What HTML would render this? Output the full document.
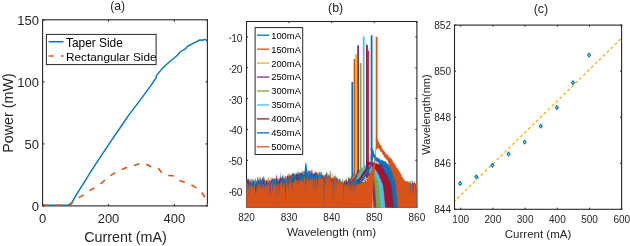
<!DOCTYPE html>
<html><head><meta charset="utf-8"><style>
html,body{margin:0;padding:0;background:#fff;}
svg{display:block;font-family:"Liberation Sans", sans-serif;filter:blur(0.3px);}
</style></head><body>
<svg width="630" height="246" viewBox="0 0 630 246" xmlns="http://www.w3.org/2000/svg">
<rect width="630" height="246" fill="#fff"/>
<rect x="42.6" y="19.8" width="164.8" height="186.1" fill="none" stroke="#262626" stroke-width="1.1"/>
<polyline points="42.50,205.20 70.30,205.20 72.30,201.90 76.40,194.60 82.10,185.60 91.80,170.10 101.60,155.20 111.70,140.20 120.00,128.00 128.70,115.20 140.00,100.40 151.20,85.20 156.10,77.80 156.50,75.40 162.20,68.60 169.50,61.80 176.80,55.70 180.70,51.50 185.70,48.60 187.10,46.60 192.10,43.90 196.30,41.90 199.90,39.90 202.00,40.30 205.60,39.40 207.50,41.50" fill="none" stroke="#0072BD" stroke-width="1.4" stroke-linejoin="round"/>
<polyline points="42.50,205.20 68.30,205.20 72.30,202.50 78.80,197.60 84.50,194.40 90.20,190.30 95.90,187.10 101.60,183.00 105.60,179.60 110.40,175.60 116.10,172.20 121.80,169.50 127.50,167.10 134.00,165.60 139.90,163.50 143.00,162.80 146.20,164.20 151.50,166.80 155.00,167.50 158.20,168.00 161.80,172.70 164.50,174.80 167.30,175.40 172.80,175.70 175.50,178.00 178.10,180.10 183.00,181.70 189.50,183.80 195.20,187.10 200.10,190.30 204.10,196.00 207.00,203.00 207.50,205.50" fill="none" stroke="#D95319" stroke-width="1.6" stroke-dasharray="5.7 7.2" stroke-linejoin="round"/>
<line x1="42.6" y1="205.9" x2="42.6" y2="204.1" stroke="#262626" stroke-width="1.1"/>
<line x1="42.6" y1="19.8" x2="42.6" y2="21.6" stroke="#262626" stroke-width="1.1"/>
<text x="42.60" y="223.20" font-size="13" text-anchor="middle" font-weight="normal" fill="#262626">0</text>
<line x1="108.52000000000001" y1="205.9" x2="108.52000000000001" y2="204.1" stroke="#262626" stroke-width="1.1"/>
<line x1="108.52000000000001" y1="19.8" x2="108.52000000000001" y2="21.6" stroke="#262626" stroke-width="1.1"/>
<text x="108.52" y="223.20" font-size="13" text-anchor="middle" font-weight="normal" fill="#262626">200</text>
<line x1="174.44" y1="205.9" x2="174.44" y2="204.1" stroke="#262626" stroke-width="1.1"/>
<line x1="174.44" y1="19.8" x2="174.44" y2="21.6" stroke="#262626" stroke-width="1.1"/>
<text x="174.44" y="223.20" font-size="13" text-anchor="middle" font-weight="normal" fill="#262626">400</text>
<line x1="42.6" y1="205.9" x2="44.4" y2="205.9" stroke="#262626" stroke-width="1.1"/>
<line x1="207.4" y1="205.9" x2="205.6" y2="205.9" stroke="#262626" stroke-width="1.1"/>
<text x="39.00" y="210.90" font-size="13" text-anchor="end" font-weight="normal" fill="#262626">0</text>
<line x1="42.6" y1="143.86666666666667" x2="44.4" y2="143.86666666666667" stroke="#262626" stroke-width="1.1"/>
<line x1="207.4" y1="143.86666666666667" x2="205.6" y2="143.86666666666667" stroke="#262626" stroke-width="1.1"/>
<text x="39.00" y="148.87" font-size="13" text-anchor="end" font-weight="normal" fill="#262626">50</text>
<line x1="42.6" y1="81.83333333333334" x2="44.4" y2="81.83333333333334" stroke="#262626" stroke-width="1.1"/>
<line x1="207.4" y1="81.83333333333334" x2="205.6" y2="81.83333333333334" stroke="#262626" stroke-width="1.1"/>
<text x="39.00" y="86.83" font-size="13" text-anchor="end" font-weight="normal" fill="#262626">100</text>
<line x1="42.6" y1="19.80000000000001" x2="44.4" y2="19.80000000000001" stroke="#262626" stroke-width="1.1"/>
<line x1="207.4" y1="19.80000000000001" x2="205.6" y2="19.80000000000001" stroke="#262626" stroke-width="1.1"/>
<text x="39.00" y="24.80" font-size="13" text-anchor="end" font-weight="normal" fill="#262626">150</text>
<rect x="46.4" y="34.4" width="109.7" height="30.2" fill="#fff" stroke="#262626" stroke-width="1"/>
<line x1="48.6" y1="41.7" x2="63.5" y2="41.7" stroke="#0072BD" stroke-width="1.5"/>
<line x1="48.6" y1="56" x2="63.6" y2="56" stroke="#D95319" stroke-width="1.6" stroke-dasharray="5 7.4"/>
<text x="66.00" y="46.90" font-size="11.9" text-anchor="start" font-weight="normal" fill="#000">Taper Side</text>
<text x="66.00" y="61.20" font-size="11.8" text-anchor="start" font-weight="normal" fill="#000">Rectangular Side</text>
<text x="117.60" y="10.30" font-size="12.2" text-anchor="middle" font-weight="normal" fill="#262626">(a)</text>
<text x="125.50" y="241.60" font-size="14.3" text-anchor="middle" font-weight="normal" fill="#262626">Current (mA)</text>
<text x="13.00" y="113.00" font-size="14.3" text-anchor="middle" font-weight="normal" fill="#262626" transform="rotate(-90 13.0 113)">Power (mW)</text>
<defs><clipPath id="cb"><rect x="245.8" y="21.5" width="171.09999999999997" height="186.35000000000002"/></clipPath></defs>
<rect x="246.5" y="21.5" width="170.39999999999998" height="185.8" fill="none" stroke="#262626" stroke-width="1.1"/>
<line x1="246.50" y1="207.3" x2="246.50" y2="205.70000000000002" stroke="#262626" stroke-width="1"/>
<line x1="246.50" y1="21.5" x2="246.50" y2="23.1" stroke="#262626" stroke-width="1"/>
<text x="246.50" y="220.80" font-size="10" text-anchor="middle" font-weight="normal" fill="#262626">820</text>
<line x1="289.10" y1="207.3" x2="289.10" y2="205.70000000000002" stroke="#262626" stroke-width="1"/>
<line x1="289.10" y1="21.5" x2="289.10" y2="23.1" stroke="#262626" stroke-width="1"/>
<text x="289.10" y="220.80" font-size="10" text-anchor="middle" font-weight="normal" fill="#262626">830</text>
<line x1="331.70" y1="207.3" x2="331.70" y2="205.70000000000002" stroke="#262626" stroke-width="1"/>
<line x1="331.70" y1="21.5" x2="331.70" y2="23.1" stroke="#262626" stroke-width="1"/>
<text x="331.70" y="220.80" font-size="10" text-anchor="middle" font-weight="normal" fill="#262626">840</text>
<line x1="374.30" y1="207.3" x2="374.30" y2="205.70000000000002" stroke="#262626" stroke-width="1"/>
<line x1="374.30" y1="21.5" x2="374.30" y2="23.1" stroke="#262626" stroke-width="1"/>
<text x="374.30" y="220.80" font-size="10" text-anchor="middle" font-weight="normal" fill="#262626">850</text>
<line x1="416.90" y1="207.3" x2="416.90" y2="205.70000000000002" stroke="#262626" stroke-width="1"/>
<line x1="416.90" y1="21.5" x2="416.90" y2="23.1" stroke="#262626" stroke-width="1"/>
<text x="416.90" y="220.80" font-size="10" text-anchor="middle" font-weight="normal" fill="#262626">860</text>
<line x1="246.5" y1="191.15" x2="248.1" y2="191.15" stroke="#262626" stroke-width="1"/>
<line x1="416.9" y1="191.15" x2="415.29999999999995" y2="191.15" stroke="#262626" stroke-width="1"/>
<text x="242.60" y="196.15" font-size="10.3" text-anchor="end" font-weight="normal" fill="#262626">60</text>
<line x1="229.5" y1="192.45" x2="231.2" y2="192.45" stroke="#262626" stroke-width="1.1"/>
<line x1="246.5" y1="160.30" x2="248.1" y2="160.30" stroke="#262626" stroke-width="1"/>
<line x1="416.9" y1="160.30" x2="415.29999999999995" y2="160.30" stroke="#262626" stroke-width="1"/>
<text x="242.60" y="165.30" font-size="10.3" text-anchor="end" font-weight="normal" fill="#262626">50</text>
<line x1="229.5" y1="161.60" x2="231.2" y2="161.60" stroke="#262626" stroke-width="1.1"/>
<line x1="246.5" y1="129.45" x2="248.1" y2="129.45" stroke="#262626" stroke-width="1"/>
<line x1="416.9" y1="129.45" x2="415.29999999999995" y2="129.45" stroke="#262626" stroke-width="1"/>
<text x="242.60" y="134.45" font-size="10.3" text-anchor="end" font-weight="normal" fill="#262626">40</text>
<line x1="229.5" y1="130.75" x2="231.2" y2="130.75" stroke="#262626" stroke-width="1.1"/>
<line x1="246.5" y1="98.60" x2="248.1" y2="98.60" stroke="#262626" stroke-width="1"/>
<line x1="416.9" y1="98.60" x2="415.29999999999995" y2="98.60" stroke="#262626" stroke-width="1"/>
<text x="242.60" y="103.60" font-size="10.3" text-anchor="end" font-weight="normal" fill="#262626">30</text>
<line x1="229.5" y1="99.90" x2="231.2" y2="99.90" stroke="#262626" stroke-width="1.1"/>
<line x1="246.5" y1="67.75" x2="248.1" y2="67.75" stroke="#262626" stroke-width="1"/>
<line x1="416.9" y1="67.75" x2="415.29999999999995" y2="67.75" stroke="#262626" stroke-width="1"/>
<text x="242.60" y="72.75" font-size="10.3" text-anchor="end" font-weight="normal" fill="#262626">20</text>
<line x1="229.5" y1="69.05" x2="231.2" y2="69.05" stroke="#262626" stroke-width="1.1"/>
<line x1="246.5" y1="36.90" x2="248.1" y2="36.90" stroke="#262626" stroke-width="1"/>
<line x1="416.9" y1="36.90" x2="415.29999999999995" y2="36.90" stroke="#262626" stroke-width="1"/>
<text x="242.60" y="41.90" font-size="10.3" text-anchor="end" font-weight="normal" fill="#262626">10</text>
<line x1="229.5" y1="38.20" x2="231.2" y2="38.20" stroke="#262626" stroke-width="1.1"/>
<g clip-path="url(#cb)"><polygon points="246.5,181.9 247.0,182.1 247.5,181.7 248.0,182.3 248.5,182.7 249.0,178.6 249.5,184.2 250.0,181.9 250.5,182.6 251.0,204.8 251.5,181.2 252.0,210.3 252.5,178.8 253.0,183.1 253.5,183.0 254.0,182.9 254.5,182.0 255.0,185.7 255.5,186.0 256.0,200.4 256.5,182.9 257.0,186.8 257.5,191.4 258.0,179.5 258.5,183.1 259.0,183.4 259.5,182.3 260.0,183.8 260.5,177.1 261.0,183.1 261.5,194.0 262.0,179.1 262.5,179.8 263.0,190.7 263.5,180.7 264.0,189.9 264.5,184.3 265.0,180.0 265.5,184.0 266.0,184.6 266.5,182.4 267.0,195.8 267.5,189.6 268.0,184.1 268.5,183.1 269.0,185.2 269.5,183.0 270.0,182.9 270.5,187.2 271.0,184.4 271.5,184.3 272.0,185.4 272.5,179.4 273.0,178.8 273.5,178.9 274.0,180.5 274.5,184.5 275.0,182.0 275.5,179.7 276.0,182.0 276.5,179.3 277.0,184.0 277.5,180.0 278.0,182.6 278.5,200.1 279.0,180.0 279.5,178.1 280.0,182.5 280.5,182.2 281.0,183.0 281.5,180.4 282.0,179.1 282.5,181.4 283.0,180.7 283.5,181.6 284.0,187.9 284.5,179.3 285.0,179.4 285.5,180.5 286.0,182.3 286.5,181.0 287.0,176.3 287.5,179.4 288.0,178.7 288.5,179.4 289.0,175.5 289.5,178.0 290.0,188.5 290.5,178.6 291.0,177.6 291.5,179.5 292.0,177.4 292.5,176.2 293.0,176.7 293.5,172.7 294.0,174.3 294.5,193.6 295.0,175.5 295.5,175.1 296.0,176.8 296.5,177.2 297.0,178.2 297.5,191.2 298.0,176.8 298.5,183.4 299.0,174.8 299.5,210.3 300.0,175.5 300.5,173.9 301.0,177.1 301.5,177.6 302.0,177.9 302.5,173.9 303.0,174.6 303.5,178.0 304.0,173.9 304.5,174.3 305.0,178.5 305.5,169.0 306.0,176.6 306.5,177.0 307.0,174.5 307.5,176.2 308.0,172.7 308.5,199.7 309.0,172.6 309.5,174.1 310.0,170.4 310.5,175.1 311.0,177.2 311.5,175.3 312.0,175.7 312.5,176.5 313.0,174.2 313.5,177.8 314.0,175.5 314.5,179.8 315.0,170.9 315.5,173.7 316.0,176.4 316.5,179.5 317.0,176.6 317.5,177.3 318.0,172.8 318.5,178.6 319.0,174.3 319.5,176.0 320.0,173.7 320.5,175.0 321.0,176.1 321.5,180.1 322.0,178.0 322.5,179.3 323.0,179.0 323.5,176.1 324.0,182.0 324.5,178.6 325.0,177.5 325.5,174.3 326.0,179.7 326.5,176.4 327.0,178.6 327.5,178.7 328.0,187.7 328.5,192.4 329.0,186.3 329.5,179.8 330.0,177.6 330.5,177.9 331.0,191.6 331.5,178.6 332.0,181.3 332.5,181.7 333.0,183.0 333.5,180.7 334.0,178.1 334.5,178.7 335.0,179.8 335.5,178.8 336.0,180.6 336.5,177.6 337.0,177.9 337.5,180.0 338.0,181.1 338.5,180.1 339.0,185.7 339.5,178.5 340.0,180.7 340.5,181.8 341.0,183.2 341.5,183.8 342.0,183.9 342.5,185.4 343.0,181.7 343.5,189.6 344.0,185.9 344.5,180.6 345.0,185.8 345.5,183.8 346.0,183.0 346.5,182.1 347.0,183.0 347.5,182.7 348.0,181.7 348.5,180.0 349.0,180.9 349.5,179.8 350.0,178.9 350.5,179.3 351.0,178.5 351.5,177.1 352.0,176.0 352.5,176.0 353.0,174.9 353.5,172.7 354.0,178.4 354.5,178.7 355.0,179.1 355.5,179.3 356.0,179.3 356.5,179.5 357.0,180.2 357.5,181.1 358.0,180.8 358.5,180.8 359.0,182.3 359.5,182.3 360.0,180.8 360.5,183.1 361.0,182.6 361.5,179.2 362.0,184.3 362.5,181.9 363.0,181.4 363.5,182.6 364.0,183.4 364.5,183.1 365.0,182.3 365.5,180.4 366.0,183.4 366.5,184.9 367.0,182.0 367.5,185.8 368.0,183.7 368.5,184.2 369.0,181.3 369.5,184.8 370.0,181.9 370.5,184.5 371.0,182.0 371.5,192.4 372.0,183.1 372.5,192.7 373.0,183.9 373.5,192.2 374.0,184.6 374.5,184.8 375.0,185.4 375.5,185.6 376.0,190.0 376.5,187.9 377.0,185.1 377.5,184.3 378.0,183.5 378.5,192.8 379.0,189.0 379.5,184.6 380.0,185.5 380.5,178.0 381.0,195.9 381.5,188.2 382.0,184.4 382.5,182.5 383.0,196.1 383.5,182.6 384.0,189.4 384.5,183.8 385.0,190.7 385.5,185.4 386.0,183.4 386.5,184.4 387.0,185.3 387.5,182.6 388.0,181.0 388.5,190.4 389.0,180.3 389.5,194.8 390.0,198.9 390.5,186.3 391.0,182.0 391.5,183.3 392.0,186.2 392.5,192.1 393.0,182.8 393.5,185.5 394.0,184.4 394.5,185.2 395.0,183.0 395.5,194.9 396.0,183.5 396.5,193.3 397.0,184.8 397.5,185.1 398.0,182.1 398.5,199.4 399.0,183.3 399.5,184.1 400.0,185.9 400.5,184.0 401.0,187.7 401.5,183.8 402.0,184.9 402.5,184.6 403.0,181.4 403.5,204.4 404.0,184.4 404.5,185.6 405.0,189.8 405.5,199.7 406.0,184.3 406.5,185.9 407.0,188.3 407.5,186.5 408.0,185.8 408.5,198.7 409.0,186.4 409.5,186.6 410.0,187.9 410.5,185.0 411.0,190.1 411.5,184.9 412.0,187.9 412.5,181.1 413.0,182.9 413.5,183.4 414.0,182.7 414.5,183.6 415.0,183.1 415.5,186.1 416.0,185.5 416.5,188.0 416.5,210.3 416.0,210.3 415.5,210.3 415.0,210.3 414.5,210.3 414.0,210.3 413.5,210.3 413.0,210.3 412.5,210.3 412.0,210.3 411.5,210.3 411.0,210.3 410.5,210.3 410.0,210.3 409.5,210.3 409.0,210.3 408.5,210.3 408.0,210.3 407.5,210.3 407.0,210.3 406.5,210.3 406.0,210.3 405.5,210.3 405.0,210.3 404.5,210.3 404.0,210.3 403.5,210.3 403.0,210.3 402.5,210.3 402.0,210.3 401.5,210.3 401.0,210.3 400.5,210.3 400.0,210.3 399.5,210.3 399.0,210.3 398.5,210.3 398.0,210.3 397.5,210.3 397.0,210.3 396.5,210.3 396.0,210.3 395.5,210.3 395.0,210.3 394.5,210.3 394.0,210.3 393.5,210.3 393.0,210.3 392.5,210.3 392.0,210.3 391.5,210.3 391.0,210.3 390.5,210.3 390.0,210.3 389.5,210.3 389.0,210.3 388.5,210.3 388.0,210.3 387.5,210.3 387.0,210.3 386.5,210.3 386.0,210.3 385.5,210.3 385.0,210.3 384.5,210.3 384.0,210.3 383.5,210.3 383.0,210.3 382.5,210.3 382.0,210.3 381.5,210.3 381.0,210.3 380.5,210.3 380.0,210.3 379.5,210.3 379.0,210.3 378.5,210.3 378.0,210.3 377.5,210.3 377.0,210.3 376.5,210.3 376.0,210.3 375.5,210.3 375.0,210.3 374.5,210.3 374.0,210.3 373.5,210.3 373.0,210.3 372.5,210.3 372.0,210.3 371.5,210.3 371.0,210.3 370.5,210.3 370.0,210.3 369.5,210.3 369.0,210.3 368.5,207.4 368.0,203.5 367.5,199.5 367.0,196.7 366.5,193.1 366.0,190.8 365.5,188.9 365.0,189.3 364.5,187.5 364.0,188.9 363.5,187.6 363.0,187.1 362.5,187.1 362.0,186.8 361.5,185.7 361.0,184.9 360.5,184.5 360.0,184.5 359.5,184.2 359.0,183.1 358.5,183.1 358.0,182.0 357.5,182.5 357.0,181.0 356.5,181.5 356.0,181.1 355.5,180.3 355.0,180.3 354.5,180.2 354.0,180.5 353.5,179.8 353.0,179.4 352.5,180.5 352.0,179.5 351.5,180.7 351.0,182.5 350.5,183.0 350.0,184.1 349.5,184.6 349.0,184.8 348.5,187.0 348.0,186.0 347.5,188.2 347.0,187.8 346.5,188.8 346.0,189.1 345.5,190.1 345.0,191.8 344.5,191.8 344.0,192.8 343.5,194.3 343.0,196.1 342.5,196.0 342.0,196.1 341.5,197.9 341.0,197.9 340.5,198.9 340.0,199.8 339.5,201.2 339.0,201.1 338.5,201.8 338.0,203.6 337.5,203.6 337.0,204.5 336.5,205.0 336.0,206.5 335.5,206.5 335.0,207.9 334.5,208.8 334.0,210.2 333.5,208.9 333.0,210.3 332.5,210.3 332.0,210.3 331.5,210.3 331.0,210.3 330.5,210.3 330.0,210.3 329.5,210.3 329.0,210.3 328.5,210.3 328.0,210.3 327.5,210.3 327.0,210.3 326.5,210.3 326.0,210.3 325.5,210.3 325.0,210.3 324.5,210.3 324.0,210.3 323.5,210.3 323.0,210.3 322.5,210.3 322.0,210.3 321.5,210.3 321.0,210.3 320.5,210.3 320.0,210.3 319.5,210.3 319.0,210.3 318.5,210.3 318.0,210.3 317.5,210.3 317.0,210.3 316.5,210.3 316.0,210.3 315.5,210.3 315.0,210.3 314.5,210.3 314.0,210.3 313.5,210.3 313.0,210.3 312.5,210.3 312.0,210.3 311.5,210.3 311.0,210.3 310.5,210.3 310.0,210.3 309.5,210.3 309.0,210.3 308.5,210.3 308.0,210.3 307.5,210.3 307.0,210.3 306.5,210.3 306.0,210.3 305.5,210.3 305.0,210.3 304.5,210.3 304.0,210.3 303.5,210.3 303.0,210.3 302.5,210.3 302.0,210.3 301.5,210.3 301.0,210.3 300.5,210.3 300.0,210.3 299.5,210.3 299.0,210.3 298.5,210.3 298.0,210.3 297.5,210.3 297.0,210.3 296.5,210.3 296.0,210.3 295.5,210.3 295.0,210.3 294.5,210.3 294.0,210.3 293.5,210.3 293.0,210.3 292.5,210.3 292.0,210.3 291.5,210.3 291.0,210.3 290.5,210.3 290.0,210.3 289.5,210.3 289.0,210.3 288.5,210.3 288.0,210.3 287.5,210.3 287.0,210.3 286.5,210.3 286.0,210.3 285.5,210.3 285.0,210.3 284.5,210.3 284.0,210.3 283.5,210.3 283.0,210.3 282.5,210.3 282.0,210.3 281.5,210.3 281.0,210.3 280.5,210.3 280.0,210.3 279.5,210.3 279.0,210.3 278.5,210.3 278.0,210.3 277.5,210.3 277.0,210.3 276.5,210.3 276.0,210.3 275.5,210.3 275.0,210.3 274.5,210.3 274.0,210.3 273.5,210.3 273.0,210.3 272.5,210.3 272.0,210.3 271.5,210.3 271.0,210.3 270.5,210.3 270.0,210.3 269.5,210.3 269.0,210.3 268.5,210.3 268.0,210.3 267.5,210.3 267.0,210.3 266.5,210.3 266.0,210.3 265.5,210.3 265.0,210.3 264.5,210.3 264.0,210.3 263.5,210.3 263.0,210.3 262.5,210.3 262.0,210.3 261.5,210.3 261.0,210.3 260.5,210.3 260.0,210.3 259.5,210.3 259.0,210.3 258.5,210.3 258.0,210.3 257.5,210.3 257.0,210.3 256.5,210.3 256.0,210.3 255.5,210.3 255.0,210.3 254.5,210.3 254.0,210.3 253.5,210.3 253.0,210.3 252.5,210.3 252.0,210.3 251.5,210.3 251.0,210.3 250.5,210.3 250.0,210.3 249.5,210.3 249.0,210.3 248.5,210.3 248.0,210.3 247.5,210.3 247.0,210.3 246.5,210.3" fill="#0072BD" stroke="#0072BD" stroke-width="0.3"/>
<line x1="352.30" y1="82.0" x2="352.30" y2="178.0" stroke="#0072BD" stroke-width="1.8"/>
<polygon points="246.5,178.9 247.0,183.2 247.5,184.4 248.0,179.7 248.5,182.1 249.0,182.4 249.5,181.8 250.0,185.7 250.5,183.4 251.0,183.7 251.5,189.2 252.0,194.2 252.5,181.3 253.0,185.9 253.5,210.3 254.0,180.4 254.5,183.2 255.0,191.8 255.5,201.4 256.0,182.7 256.5,184.1 257.0,182.7 257.5,183.1 258.0,184.1 258.5,177.7 259.0,183.7 259.5,180.2 260.0,183.0 260.5,181.6 261.0,182.9 261.5,182.8 262.0,181.2 262.5,182.8 263.0,181.1 263.5,181.4 264.0,196.6 264.5,177.6 265.0,182.9 265.5,190.2 266.0,184.3 266.5,182.9 267.0,190.9 267.5,182.0 268.0,177.5 268.5,179.7 269.0,183.7 269.5,181.1 270.0,181.8 270.5,184.1 271.0,177.2 271.5,181.8 272.0,182.0 272.5,183.0 273.0,182.4 273.5,180.5 274.0,181.7 274.5,180.3 275.0,181.9 275.5,183.6 276.0,181.6 276.5,183.5 277.0,177.4 277.5,189.8 278.0,180.3 278.5,185.3 279.0,180.8 279.5,181.7 280.0,181.4 280.5,179.7 281.0,181.7 281.5,195.0 282.0,176.1 282.5,180.9 283.0,180.8 283.5,180.7 284.0,180.1 284.5,182.5 285.0,192.8 285.5,188.2 286.0,179.7 286.5,182.2 287.0,179.5 287.5,178.4 288.0,178.6 288.5,180.4 289.0,172.9 289.5,177.3 290.0,179.3 290.5,176.3 291.0,173.9 291.5,176.4 292.0,176.5 292.5,176.8 293.0,178.7 293.5,177.7 294.0,179.4 294.5,176.7 295.0,178.9 295.5,176.4 296.0,175.5 296.5,176.3 297.0,176.1 297.5,190.4 298.0,175.0 298.5,175.7 299.0,174.0 299.5,174.8 300.0,174.5 300.5,174.8 301.0,179.7 301.5,177.9 302.0,172.7 302.5,170.6 303.0,181.5 303.5,173.5 304.0,175.1 304.5,173.6 305.0,174.4 305.5,174.8 306.0,176.0 306.5,173.5 307.0,176.6 307.5,176.4 308.0,176.1 308.5,170.1 309.0,170.7 309.5,172.8 310.0,181.2 310.5,173.7 311.0,179.7 311.5,170.9 312.0,172.8 312.5,174.4 313.0,174.7 313.5,175.2 314.0,174.7 314.5,174.6 315.0,173.2 315.5,176.9 316.0,173.9 316.5,178.3 317.0,178.3 317.5,176.6 318.0,189.8 318.5,172.0 319.0,177.3 319.5,176.1 320.0,174.4 320.5,175.9 321.0,177.5 321.5,176.2 322.0,189.8 322.5,176.9 323.0,177.7 323.5,185.4 324.0,174.6 324.5,182.5 325.0,178.9 325.5,174.8 326.0,178.1 326.5,174.5 327.0,178.4 327.5,180.2 328.0,177.5 328.5,182.8 329.0,176.4 329.5,180.1 330.0,178.0 330.5,185.1 331.0,179.4 331.5,185.9 332.0,178.1 332.5,181.5 333.0,191.7 333.5,190.0 334.0,175.9 334.5,179.4 335.0,179.2 335.5,181.4 336.0,193.1 336.5,179.0 337.0,181.4 337.5,192.7 338.0,184.1 338.5,182.4 339.0,184.9 339.5,183.7 340.0,183.5 340.5,182.8 341.0,182.0 341.5,186.3 342.0,189.5 342.5,182.1 343.0,192.4 343.5,185.8 344.0,183.6 344.5,183.4 345.0,182.5 345.5,184.3 346.0,183.2 346.5,183.3 347.0,183.8 347.5,186.0 348.0,183.8 348.5,182.7 349.0,182.0 349.5,179.5 350.0,181.1 350.5,181.0 351.0,179.0 351.5,179.4 352.0,177.6 352.5,176.9 353.0,176.8 353.5,175.3 354.0,174.0 354.5,174.0 355.0,173.9 355.5,174.3 356.0,173.4 356.5,173.5 357.0,174.4 357.5,174.0 358.0,174.8 358.5,175.0 359.0,173.6 359.5,174.8 360.0,175.7 360.5,174.1 361.0,175.5 361.5,175.0 362.0,174.7 362.5,176.9 363.0,177.2 363.5,176.7 364.0,177.0 364.5,178.4 365.0,178.6 365.5,178.2 366.0,179.1 366.5,179.0 367.0,179.1 367.5,178.9 368.0,179.7 368.5,181.0 369.0,181.3 369.5,181.9 370.0,182.6 370.5,182.2 371.0,182.5 371.5,180.6 372.0,182.2 372.5,184.3 373.0,177.0 373.5,183.2 374.0,190.2 374.5,183.9 375.0,201.6 375.5,183.3 376.0,181.0 376.5,183.9 377.0,187.3 377.5,203.1 378.0,182.0 378.5,182.4 379.0,180.6 379.5,183.4 380.0,183.0 380.5,185.2 381.0,187.5 381.5,194.7 382.0,184.5 382.5,185.3 383.0,189.3 383.5,185.1 384.0,186.2 384.5,183.7 385.0,183.2 385.5,184.0 386.0,183.4 386.5,187.9 387.0,182.7 387.5,183.2 388.0,183.9 388.5,184.0 389.0,185.9 389.5,192.5 390.0,185.4 390.5,183.3 391.0,182.3 391.5,184.5 392.0,183.7 392.5,186.7 393.0,191.1 393.5,188.0 394.0,185.6 394.5,186.0 395.0,180.3 395.5,185.3 396.0,182.8 396.5,182.6 397.0,185.9 397.5,187.1 398.0,184.1 398.5,185.0 399.0,182.9 399.5,185.7 400.0,185.8 400.5,185.4 401.0,183.7 401.5,193.9 402.0,182.9 402.5,183.7 403.0,185.7 403.5,187.4 404.0,184.8 404.5,183.6 405.0,197.9 405.5,184.0 406.0,194.8 406.5,195.3 407.0,187.3 407.5,203.9 408.0,186.7 408.5,187.2 409.0,181.0 409.5,186.7 410.0,186.9 410.5,185.5 411.0,188.1 411.5,201.3 412.0,183.5 412.5,185.1 413.0,185.0 413.5,185.8 414.0,184.7 414.5,187.3 415.0,185.7 415.5,184.3 416.0,184.5 416.5,182.3 416.5,210.3 416.0,210.3 415.5,210.3 415.0,210.3 414.5,210.3 414.0,210.3 413.5,210.3 413.0,210.3 412.5,210.3 412.0,210.3 411.5,210.3 411.0,210.3 410.5,210.3 410.0,210.3 409.5,210.3 409.0,210.3 408.5,210.3 408.0,210.3 407.5,210.3 407.0,210.3 406.5,210.3 406.0,210.3 405.5,210.3 405.0,210.3 404.5,210.3 404.0,210.3 403.5,210.3 403.0,210.3 402.5,210.3 402.0,210.3 401.5,210.3 401.0,210.3 400.5,210.3 400.0,210.3 399.5,210.3 399.0,210.3 398.5,210.3 398.0,210.3 397.5,210.3 397.0,210.3 396.5,210.3 396.0,210.3 395.5,210.3 395.0,210.3 394.5,210.3 394.0,210.3 393.5,210.3 393.0,210.3 392.5,210.3 392.0,210.3 391.5,210.3 391.0,210.3 390.5,210.3 390.0,210.3 389.5,210.3 389.0,210.3 388.5,210.3 388.0,210.3 387.5,210.3 387.0,210.3 386.5,210.3 386.0,210.3 385.5,210.3 385.0,210.3 384.5,210.3 384.0,210.3 383.5,210.3 383.0,210.3 382.5,210.3 382.0,210.3 381.5,210.3 381.0,210.3 380.5,210.3 380.0,210.3 379.5,210.3 379.0,210.3 378.5,210.3 378.0,210.3 377.5,210.3 377.0,210.3 376.5,210.3 376.0,210.3 375.5,210.3 375.0,210.3 374.5,210.3 374.0,210.3 373.5,210.3 373.0,210.3 372.5,210.3 372.0,210.3 371.5,210.3 371.0,210.3 370.5,210.2 370.0,200.6 369.5,193.1 369.0,185.3 368.5,182.5 368.0,183.0 367.5,182.7 367.0,179.9 366.5,179.8 366.0,179.9 365.5,179.0 365.0,179.4 364.5,179.2 364.0,178.7 363.5,178.4 363.0,179.0 362.5,179.4 362.0,178.6 361.5,178.6 361.0,178.6 360.5,177.6 360.0,177.1 359.5,178.2 359.0,177.0 358.5,177.9 358.0,177.6 357.5,177.5 357.0,176.6 356.5,176.7 356.0,176.3 355.5,177.3 355.0,177.9 354.5,178.3 354.0,180.2 353.5,180.2 353.0,180.5 352.5,181.6 352.0,182.9 351.5,182.4 351.0,183.4 350.5,184.0 350.0,184.8 349.5,186.1 349.0,187.3 348.5,187.6 348.0,188.4 347.5,187.5 347.0,190.4 346.5,191.7 346.0,191.8 345.5,192.3 345.0,193.2 344.5,193.7 344.0,195.3 343.5,195.6 343.0,197.1 342.5,197.4 342.0,198.7 341.5,197.8 341.0,199.1 340.5,200.7 340.0,201.4 339.5,202.2 339.0,203.2 338.5,202.9 338.0,203.5 337.5,205.0 337.0,205.7 336.5,208.3 336.0,208.4 335.5,208.4 335.0,209.7 334.5,209.7 334.0,210.3 333.5,210.3 333.0,210.3 332.5,210.3 332.0,210.3 331.5,210.3 331.0,210.3 330.5,210.3 330.0,210.3 329.5,210.3 329.0,210.3 328.5,210.3 328.0,210.3 327.5,210.3 327.0,210.3 326.5,210.3 326.0,210.3 325.5,210.3 325.0,210.3 324.5,210.3 324.0,210.3 323.5,210.3 323.0,210.3 322.5,210.3 322.0,210.3 321.5,210.3 321.0,210.3 320.5,210.3 320.0,210.3 319.5,210.3 319.0,210.3 318.5,210.3 318.0,210.3 317.5,210.3 317.0,210.3 316.5,210.3 316.0,210.3 315.5,210.3 315.0,210.3 314.5,210.3 314.0,210.3 313.5,210.3 313.0,210.3 312.5,210.3 312.0,210.3 311.5,210.3 311.0,210.3 310.5,210.3 310.0,210.3 309.5,210.3 309.0,210.3 308.5,210.3 308.0,210.3 307.5,210.3 307.0,210.3 306.5,210.3 306.0,210.3 305.5,210.3 305.0,210.3 304.5,210.3 304.0,210.3 303.5,210.3 303.0,210.3 302.5,210.3 302.0,210.3 301.5,210.3 301.0,210.3 300.5,210.3 300.0,210.3 299.5,210.3 299.0,210.3 298.5,210.3 298.0,210.3 297.5,210.3 297.0,210.3 296.5,210.3 296.0,210.3 295.5,210.3 295.0,210.3 294.5,210.3 294.0,210.3 293.5,210.3 293.0,210.3 292.5,210.3 292.0,210.3 291.5,210.3 291.0,210.3 290.5,210.3 290.0,210.3 289.5,210.3 289.0,210.3 288.5,210.3 288.0,210.3 287.5,210.3 287.0,210.3 286.5,210.3 286.0,210.3 285.5,210.3 285.0,210.3 284.5,210.3 284.0,210.3 283.5,210.3 283.0,210.3 282.5,210.3 282.0,210.3 281.5,210.3 281.0,210.3 280.5,210.3 280.0,210.3 279.5,210.3 279.0,210.3 278.5,210.3 278.0,210.3 277.5,210.3 277.0,210.3 276.5,210.3 276.0,210.3 275.5,210.3 275.0,210.3 274.5,210.3 274.0,210.3 273.5,210.3 273.0,210.3 272.5,210.3 272.0,210.3 271.5,210.3 271.0,210.3 270.5,210.3 270.0,210.3 269.5,210.3 269.0,210.3 268.5,210.3 268.0,210.3 267.5,210.3 267.0,210.3 266.5,210.3 266.0,210.3 265.5,210.3 265.0,210.3 264.5,210.3 264.0,210.3 263.5,210.3 263.0,210.3 262.5,210.3 262.0,210.3 261.5,210.3 261.0,210.3 260.5,210.3 260.0,210.3 259.5,210.3 259.0,210.3 258.5,210.3 258.0,210.3 257.5,210.3 257.0,210.3 256.5,210.3 256.0,210.3 255.5,210.3 255.0,210.3 254.5,210.3 254.0,210.3 253.5,210.3 253.0,210.3 252.5,210.3 252.0,210.3 251.5,210.3 251.0,210.3 250.5,210.3 250.0,210.3 249.5,210.3 249.0,210.3 248.5,210.3 248.0,210.3 247.5,210.3 247.0,210.3 246.5,210.3" fill="#D95319" stroke="#D95319" stroke-width="0.3"/>
<line x1="354.50" y1="59.0" x2="354.50" y2="178.0" stroke="#D95319" stroke-width="1.8"/>
<polygon points="246.5,183.4 247.0,186.0 247.5,183.8 248.0,180.1 248.5,182.6 249.0,182.3 249.5,182.6 250.0,181.9 250.5,181.8 251.0,183.0 251.5,182.0 252.0,180.8 252.5,181.2 253.0,192.7 253.5,182.9 254.0,183.0 254.5,184.9 255.0,181.2 255.5,188.6 256.0,181.7 256.5,183.6 257.0,181.6 257.5,183.8 258.0,195.2 258.5,183.5 259.0,184.7 259.5,199.4 260.0,181.0 260.5,183.6 261.0,184.1 261.5,183.4 262.0,182.3 262.5,180.8 263.0,180.5 263.5,180.3 264.0,180.0 264.5,183.3 265.0,181.3 265.5,183.2 266.0,182.4 266.5,180.3 267.0,182.5 267.5,185.6 268.0,182.7 268.5,181.4 269.0,182.7 269.5,208.9 270.0,186.6 270.5,185.5 271.0,184.7 271.5,182.2 272.0,182.1 272.5,183.2 273.0,185.1 273.5,181.1 274.0,181.3 274.5,201.4 275.0,179.7 275.5,180.3 276.0,179.8 276.5,180.4 277.0,177.2 277.5,182.0 278.0,179.7 278.5,180.6 279.0,179.7 279.5,181.1 280.0,183.9 280.5,186.5 281.0,181.8 281.5,180.9 282.0,182.2 282.5,181.9 283.0,184.8 283.5,180.1 284.0,189.4 284.5,180.4 285.0,178.4 285.5,176.5 286.0,181.7 286.5,178.4 287.0,180.0 287.5,198.0 288.0,176.6 288.5,177.2 289.0,176.4 289.5,178.2 290.0,177.9 290.5,179.1 291.0,178.4 291.5,177.5 292.0,174.3 292.5,176.2 293.0,177.3 293.5,178.4 294.0,187.0 294.5,178.6 295.0,176.3 295.5,192.3 296.0,175.3 296.5,175.5 297.0,181.7 297.5,175.3 298.0,171.9 298.5,180.9 299.0,184.6 299.5,172.2 300.0,185.0 300.5,172.4 301.0,173.1 301.5,171.7 302.0,174.9 302.5,175.6 303.0,179.6 303.5,172.2 304.0,173.8 304.5,189.7 305.0,175.3 305.5,175.0 306.0,169.1 306.5,174.1 307.0,174.7 307.5,175.0 308.0,176.6 308.5,173.2 309.0,174.5 309.5,176.1 310.0,173.9 310.5,176.0 311.0,173.6 311.5,176.7 312.0,177.4 312.5,174.6 313.0,177.2 313.5,197.2 314.0,176.3 314.5,175.1 315.0,174.5 315.5,175.8 316.0,189.9 316.5,172.3 317.0,176.8 317.5,171.8 318.0,172.9 318.5,173.8 319.0,175.1 319.5,174.8 320.0,176.3 320.5,175.2 321.0,172.3 321.5,179.9 322.0,176.1 322.5,181.5 323.0,178.3 323.5,185.2 324.0,177.3 324.5,175.8 325.0,179.3 325.5,179.5 326.0,178.2 326.5,174.7 327.0,181.3 327.5,171.7 328.0,189.3 328.5,174.6 329.0,190.8 329.5,178.4 330.0,169.5 330.5,180.3 331.0,178.1 331.5,182.6 332.0,178.1 332.5,179.9 333.0,177.8 333.5,179.4 334.0,180.0 334.5,179.7 335.0,180.9 335.5,181.6 336.0,199.3 336.5,183.2 337.0,188.1 337.5,184.2 338.0,177.6 338.5,181.9 339.0,181.9 339.5,180.9 340.0,182.3 340.5,181.9 341.0,182.1 341.5,190.0 342.0,181.3 342.5,179.2 343.0,178.9 343.5,181.3 344.0,182.5 344.5,184.3 345.0,184.2 345.5,184.0 346.0,189.4 346.5,185.3 347.0,182.0 347.5,181.9 348.0,185.1 348.5,184.4 349.0,183.6 349.5,184.1 350.0,182.9 350.5,181.9 351.0,180.4 351.5,180.7 352.0,179.1 352.5,178.9 353.0,177.7 353.5,178.3 354.0,175.5 354.5,175.7 355.0,174.9 355.5,172.0 356.0,172.0 356.5,172.0 357.0,172.0 357.5,172.4 358.0,171.7 358.5,172.1 359.0,172.8 359.5,171.8 360.0,173.0 360.5,173.0 361.0,173.1 361.5,173.3 362.0,173.1 362.5,174.8 363.0,172.6 363.5,173.4 364.0,172.9 364.5,174.4 365.0,174.9 365.5,175.6 366.0,174.3 366.5,175.3 367.0,174.6 367.5,175.3 368.0,175.9 368.5,174.9 369.0,175.8 369.5,176.3 370.0,177.7 370.5,178.7 371.0,178.1 371.5,179.6 372.0,179.6 372.5,179.8 373.0,181.3 373.5,182.9 374.0,181.8 374.5,185.3 375.0,188.0 375.5,182.1 376.0,184.2 376.5,186.4 377.0,185.1 377.5,184.8 378.0,187.0 378.5,187.5 379.0,185.3 379.5,185.2 380.0,186.5 380.5,188.3 381.0,181.6 381.5,184.2 382.0,183.0 382.5,183.4 383.0,186.4 383.5,181.5 384.0,183.3 384.5,192.3 385.0,184.1 385.5,180.4 386.0,182.3 386.5,179.6 387.0,191.5 387.5,182.6 388.0,183.6 388.5,186.7 389.0,188.4 389.5,186.8 390.0,188.0 390.5,184.6 391.0,186.6 391.5,193.7 392.0,187.2 392.5,183.7 393.0,184.8 393.5,186.3 394.0,184.6 394.5,183.8 395.0,180.8 395.5,184.0 396.0,180.1 396.5,183.9 397.0,183.2 397.5,183.8 398.0,180.9 398.5,186.2 399.0,186.3 399.5,183.6 400.0,184.5 400.5,187.3 401.0,184.0 401.5,188.4 402.0,188.8 402.5,185.8 403.0,186.5 403.5,185.6 404.0,185.1 404.5,197.1 405.0,185.5 405.5,187.1 406.0,183.8 406.5,185.8 407.0,186.1 407.5,181.2 408.0,184.8 408.5,185.8 409.0,181.9 409.5,184.8 410.0,185.1 410.5,184.5 411.0,186.5 411.5,183.5 412.0,184.5 412.5,185.1 413.0,184.3 413.5,186.8 414.0,186.2 414.5,185.2 415.0,186.0 415.5,184.3 416.0,184.4 416.5,183.6 416.5,210.3 416.0,210.3 415.5,210.3 415.0,210.3 414.5,210.3 414.0,210.3 413.5,210.3 413.0,210.3 412.5,210.3 412.0,210.3 411.5,210.3 411.0,210.3 410.5,210.3 410.0,210.3 409.5,210.3 409.0,210.3 408.5,210.3 408.0,210.3 407.5,210.3 407.0,210.3 406.5,210.3 406.0,210.3 405.5,210.3 405.0,210.3 404.5,210.3 404.0,210.3 403.5,210.3 403.0,210.3 402.5,210.3 402.0,210.3 401.5,210.3 401.0,210.3 400.5,210.3 400.0,210.3 399.5,210.3 399.0,210.3 398.5,210.3 398.0,210.3 397.5,210.3 397.0,210.3 396.5,210.3 396.0,210.3 395.5,210.3 395.0,210.3 394.5,210.3 394.0,210.3 393.5,210.3 393.0,210.3 392.5,210.3 392.0,210.3 391.5,210.3 391.0,210.3 390.5,210.3 390.0,210.3 389.5,210.3 389.0,210.3 388.5,210.3 388.0,210.3 387.5,210.3 387.0,210.3 386.5,210.3 386.0,210.3 385.5,210.3 385.0,210.3 384.5,210.3 384.0,210.3 383.5,210.3 383.0,210.3 382.5,210.3 382.0,210.3 381.5,210.3 381.0,210.3 380.5,210.3 380.0,210.3 379.5,210.3 379.0,210.3 378.5,210.3 378.0,210.3 377.5,210.3 377.0,210.3 376.5,210.3 376.0,210.3 375.5,210.3 375.0,210.3 374.5,210.3 374.0,210.3 373.5,210.3 373.0,210.3 372.5,210.3 372.0,210.1 371.5,201.8 371.0,194.2 370.5,185.5 370.0,183.3 369.5,179.5 369.0,176.9 368.5,178.1 368.0,178.7 367.5,178.2 367.0,177.9 366.5,177.4 366.0,177.7 365.5,176.9 365.0,175.9 364.5,176.2 364.0,174.9 363.5,176.7 363.0,175.3 362.5,177.0 362.0,175.3 361.5,174.9 361.0,176.4 360.5,176.5 360.0,175.1 359.5,174.5 359.0,175.9 358.5,175.8 358.0,175.0 357.5,175.7 357.0,176.0 356.5,176.1 356.0,176.9 355.5,178.5 355.0,178.6 354.5,180.7 354.0,180.5 353.5,181.5 353.0,180.3 352.5,182.2 352.0,183.8 351.5,184.0 351.0,185.3 350.5,186.3 350.0,186.3 349.5,188.0 349.0,188.8 348.5,189.1 348.0,190.4 347.5,191.2 347.0,190.8 346.5,192.4 346.0,192.9 345.5,193.3 345.0,194.8 344.5,195.3 344.0,196.8 343.5,197.1 343.0,197.8 342.5,200.1 342.0,199.5 341.5,201.4 341.0,202.0 340.5,201.7 340.0,203.6 339.5,203.5 339.0,204.5 338.5,204.9 338.0,206.6 337.5,207.7 337.0,207.6 336.5,208.1 336.0,209.5 335.5,210.3 335.0,210.3 334.5,210.3 334.0,210.3 333.5,210.3 333.0,210.3 332.5,210.3 332.0,210.3 331.5,210.3 331.0,210.3 330.5,210.3 330.0,210.3 329.5,210.3 329.0,210.3 328.5,210.3 328.0,210.3 327.5,210.3 327.0,210.3 326.5,210.3 326.0,210.3 325.5,210.3 325.0,210.3 324.5,210.3 324.0,210.3 323.5,210.3 323.0,210.3 322.5,210.3 322.0,210.3 321.5,210.3 321.0,210.3 320.5,210.3 320.0,210.3 319.5,210.3 319.0,210.3 318.5,210.3 318.0,210.3 317.5,210.3 317.0,210.3 316.5,210.3 316.0,210.3 315.5,210.3 315.0,210.3 314.5,210.3 314.0,210.3 313.5,210.3 313.0,210.3 312.5,210.3 312.0,210.3 311.5,210.3 311.0,210.3 310.5,210.3 310.0,210.3 309.5,210.3 309.0,210.3 308.5,210.3 308.0,210.3 307.5,210.3 307.0,210.3 306.5,210.3 306.0,210.3 305.5,210.3 305.0,210.3 304.5,210.3 304.0,210.3 303.5,210.3 303.0,210.3 302.5,210.3 302.0,210.3 301.5,210.3 301.0,210.3 300.5,210.3 300.0,210.3 299.5,210.3 299.0,210.3 298.5,210.3 298.0,210.3 297.5,210.3 297.0,210.3 296.5,210.3 296.0,210.3 295.5,210.3 295.0,210.3 294.5,210.3 294.0,210.3 293.5,210.3 293.0,210.3 292.5,210.3 292.0,210.3 291.5,210.3 291.0,210.3 290.5,210.3 290.0,210.3 289.5,210.3 289.0,210.3 288.5,210.3 288.0,210.3 287.5,210.3 287.0,210.3 286.5,210.3 286.0,210.3 285.5,210.3 285.0,210.3 284.5,210.3 284.0,210.3 283.5,210.3 283.0,210.3 282.5,210.3 282.0,210.3 281.5,210.3 281.0,210.3 280.5,210.3 280.0,210.3 279.5,210.3 279.0,210.3 278.5,210.3 278.0,210.3 277.5,210.3 277.0,210.3 276.5,210.3 276.0,210.3 275.5,210.3 275.0,210.3 274.5,210.3 274.0,210.3 273.5,210.3 273.0,210.3 272.5,210.3 272.0,210.3 271.5,210.3 271.0,210.3 270.5,210.3 270.0,210.3 269.5,210.3 269.0,210.3 268.5,210.3 268.0,210.3 267.5,210.3 267.0,210.3 266.5,210.3 266.0,210.3 265.5,210.3 265.0,210.3 264.5,210.3 264.0,210.3 263.5,210.3 263.0,210.3 262.5,210.3 262.0,210.3 261.5,210.3 261.0,210.3 260.5,210.3 260.0,210.3 259.5,210.3 259.0,210.3 258.5,210.3 258.0,210.3 257.5,210.3 257.0,210.3 256.5,210.3 256.0,210.3 255.5,210.3 255.0,210.3 254.5,210.3 254.0,210.3 253.5,210.3 253.0,210.3 252.5,210.3 252.0,210.3 251.5,210.3 251.0,210.3 250.5,210.3 250.0,210.3 249.5,210.3 249.0,210.3 248.5,210.3 248.0,210.3 247.5,210.3 247.0,210.3 246.5,210.3" fill="#EDB120" stroke="#EDB120" stroke-width="0.3"/>
<line x1="356.10" y1="54.0" x2="356.10" y2="178.0" stroke="#EDB120" stroke-width="1.8"/>
<polygon points="246.5,178.9 247.0,180.9 247.5,180.9 248.0,178.4 248.5,180.7 249.0,182.8 249.5,183.3 250.0,181.6 250.5,182.1 251.0,178.8 251.5,199.9 252.0,182.5 252.5,183.7 253.0,185.3 253.5,181.9 254.0,194.1 254.5,185.7 255.0,191.5 255.5,183.0 256.0,182.0 256.5,183.5 257.0,186.3 257.5,177.0 258.0,184.7 258.5,179.7 259.0,182.2 259.5,183.7 260.0,182.3 260.5,190.9 261.0,178.8 261.5,193.1 262.0,181.8 262.5,178.3 263.0,181.2 263.5,187.6 264.0,180.6 264.5,180.3 265.0,180.1 265.5,183.9 266.0,183.0 266.5,185.5 267.0,184.3 267.5,200.7 268.0,192.5 268.5,186.5 269.0,201.3 269.5,183.7 270.0,183.5 270.5,183.2 271.0,187.8 271.5,180.4 272.0,181.7 272.5,177.8 273.0,184.5 273.5,183.8 274.0,181.2 274.5,181.9 275.0,182.3 275.5,178.7 276.0,179.6 276.5,174.9 277.0,182.4 277.5,180.3 278.0,180.4 278.5,181.6 279.0,181.2 279.5,185.2 280.0,178.1 280.5,180.0 281.0,182.7 281.5,180.1 282.0,177.9 282.5,178.9 283.0,174.7 283.5,180.8 284.0,178.8 284.5,185.0 285.0,175.7 285.5,178.0 286.0,177.9 286.5,182.8 287.0,178.8 287.5,182.9 288.0,177.4 288.5,177.8 289.0,178.6 289.5,178.6 290.0,179.3 290.5,182.5 291.0,177.0 291.5,175.8 292.0,175.1 292.5,173.0 293.0,175.2 293.5,174.8 294.0,175.1 294.5,175.4 295.0,176.3 295.5,175.3 296.0,175.1 296.5,173.8 297.0,177.4 297.5,182.0 298.0,171.5 298.5,174.7 299.0,174.6 299.5,175.8 300.0,177.5 300.5,173.4 301.0,175.1 301.5,175.1 302.0,172.6 302.5,174.1 303.0,187.0 303.5,173.9 304.0,171.2 304.5,174.7 305.0,172.4 305.5,172.3 306.0,172.5 306.5,175.6 307.0,170.7 307.5,172.5 308.0,173.7 308.5,174.2 309.0,172.9 309.5,171.0 310.0,176.9 310.5,175.4 311.0,177.6 311.5,176.7 312.0,175.6 312.5,174.3 313.0,183.6 313.5,176.6 314.0,174.9 314.5,176.0 315.0,173.9 315.5,182.3 316.0,182.2 316.5,176.7 317.0,178.1 317.5,174.1 318.0,177.0 318.5,176.6 319.0,177.5 319.5,178.5 320.0,176.2 320.5,179.4 321.0,178.2 321.5,174.7 322.0,175.4 322.5,175.1 323.0,175.1 323.5,177.4 324.0,177.2 324.5,178.3 325.0,177.3 325.5,178.0 326.0,184.2 326.5,176.2 327.0,186.4 327.5,177.3 328.0,175.8 328.5,179.0 329.0,181.5 329.5,185.0 330.0,190.3 330.5,177.8 331.0,180.4 331.5,180.9 332.0,181.1 332.5,180.6 333.0,181.3 333.5,181.4 334.0,176.8 334.5,180.8 335.0,179.6 335.5,178.2 336.0,195.5 336.5,181.6 337.0,188.0 337.5,178.8 338.0,186.5 338.5,180.4 339.0,181.1 339.5,194.2 340.0,181.2 340.5,184.1 341.0,183.7 341.5,195.0 342.0,186.8 342.5,184.4 343.0,184.2 343.5,189.5 344.0,184.1 344.5,184.0 345.0,183.0 345.5,179.6 346.0,183.0 346.5,189.4 347.0,182.9 347.5,185.2 348.0,181.3 348.5,180.7 349.0,180.6 349.5,180.4 350.0,180.1 350.5,183.3 351.0,177.4 351.5,180.0 352.0,179.2 352.5,179.6 353.0,179.9 353.5,177.9 354.0,178.1 354.5,177.3 355.0,174.3 355.5,176.7 356.0,175.2 356.5,174.1 357.0,172.4 357.5,170.0 358.0,170.0 358.5,170.0 359.0,169.8 359.5,170.8 360.0,170.6 360.5,170.1 361.0,171.1 361.5,170.9 362.0,169.6 362.5,170.7 363.0,171.0 363.5,171.4 364.0,171.5 364.5,171.0 365.0,171.1 365.5,170.3 366.0,171.0 366.5,170.8 367.0,171.9 367.5,172.4 368.0,171.5 368.5,170.7 369.0,172.4 369.5,173.0 370.0,172.5 370.5,172.0 371.0,173.4 371.5,173.4 372.0,174.8 372.5,175.5 373.0,177.0 373.5,176.6 374.0,179.0 374.5,179.3 375.0,181.3 375.5,181.1 376.0,182.1 376.5,184.5 377.0,182.6 377.5,187.7 378.0,182.5 378.5,183.8 379.0,179.4 379.5,183.1 380.0,178.2 380.5,180.5 381.0,182.5 381.5,180.3 382.0,182.2 382.5,187.3 383.0,183.2 383.5,193.4 384.0,185.0 384.5,184.4 385.0,183.2 385.5,200.8 386.0,191.2 386.5,183.0 387.0,192.4 387.5,184.9 388.0,185.1 388.5,185.0 389.0,185.9 389.5,183.8 390.0,183.6 390.5,183.8 391.0,180.3 391.5,191.1 392.0,182.7 392.5,184.5 393.0,183.7 393.5,183.6 394.0,205.6 394.5,181.3 395.0,182.2 395.5,183.2 396.0,184.3 396.5,187.6 397.0,184.0 397.5,185.5 398.0,183.8 398.5,181.8 399.0,187.2 399.5,184.5 400.0,195.0 400.5,210.3 401.0,184.9 401.5,190.1 402.0,185.3 402.5,189.4 403.0,178.8 403.5,186.0 404.0,188.2 404.5,183.1 405.0,188.9 405.5,183.5 406.0,187.4 406.5,206.6 407.0,188.4 407.5,186.0 408.0,188.0 408.5,188.9 409.0,184.6 409.5,188.7 410.0,183.5 410.5,184.7 411.0,185.0 411.5,185.6 412.0,189.8 412.5,187.1 413.0,185.0 413.5,186.1 414.0,185.4 414.5,189.8 415.0,183.5 415.5,184.1 416.0,186.5 416.5,192.5 416.5,210.3 416.0,210.3 415.5,210.3 415.0,210.3 414.5,210.3 414.0,210.3 413.5,210.3 413.0,210.3 412.5,210.3 412.0,210.3 411.5,210.3 411.0,210.3 410.5,210.3 410.0,210.3 409.5,210.3 409.0,210.3 408.5,210.3 408.0,210.3 407.5,210.3 407.0,210.3 406.5,210.3 406.0,210.3 405.5,210.3 405.0,210.3 404.5,210.3 404.0,210.3 403.5,210.3 403.0,210.3 402.5,210.3 402.0,210.3 401.5,210.3 401.0,210.3 400.5,210.3 400.0,210.3 399.5,210.3 399.0,210.3 398.5,210.3 398.0,210.3 397.5,210.3 397.0,210.3 396.5,210.3 396.0,210.3 395.5,210.3 395.0,210.3 394.5,210.3 394.0,210.3 393.5,210.3 393.0,210.3 392.5,210.3 392.0,210.3 391.5,210.3 391.0,210.3 390.5,210.3 390.0,210.3 389.5,210.3 389.0,210.3 388.5,210.3 388.0,210.3 387.5,210.3 387.0,210.3 386.5,210.3 386.0,210.3 385.5,210.3 385.0,210.3 384.5,210.3 384.0,210.3 383.5,210.3 383.0,210.3 382.5,210.3 382.0,210.3 381.5,210.3 381.0,210.3 380.5,210.3 380.0,210.3 379.5,210.3 379.0,210.3 378.5,210.3 378.0,210.3 377.5,210.3 377.0,210.3 376.5,210.3 376.0,210.3 375.5,210.3 375.0,210.3 374.5,210.3 374.0,210.3 373.5,204.7 373.0,197.3 372.5,190.3 372.0,184.7 371.5,183.3 371.0,180.7 370.5,178.9 370.0,177.1 369.5,176.6 369.0,176.1 368.5,176.1 368.0,175.3 367.5,175.8 367.0,175.4 366.5,174.3 366.0,174.3 365.5,175.0 365.0,174.0 364.5,173.8 364.0,173.1 363.5,173.4 363.0,173.2 362.5,173.8 362.0,173.2 361.5,173.4 361.0,172.9 360.5,174.0 360.0,173.3 359.5,173.9 359.0,173.5 358.5,174.8 358.0,174.5 357.5,175.8 357.0,177.1 356.5,178.0 356.0,177.6 355.5,179.9 355.0,180.6 354.5,180.6 354.0,181.3 353.5,182.2 353.0,182.8 352.5,184.7 352.0,185.0 351.5,184.9 351.0,185.9 350.5,187.2 350.0,187.3 349.5,189.7 349.0,189.7 348.5,191.3 348.0,191.8 347.5,192.5 347.0,192.5 346.5,194.3 346.0,194.7 345.5,196.0 345.0,195.2 344.5,196.3 344.0,197.6 343.5,198.8 343.0,199.5 342.5,200.1 342.0,200.8 341.5,201.3 341.0,202.9 340.5,202.7 340.0,204.5 339.5,204.5 339.0,204.4 338.5,205.2 338.0,207.9 337.5,207.7 337.0,208.5 336.5,209.6 336.0,210.3 335.5,210.3 335.0,210.3 334.5,210.3 334.0,210.3 333.5,210.3 333.0,210.3 332.5,210.3 332.0,210.3 331.5,210.3 331.0,210.3 330.5,210.3 330.0,210.3 329.5,210.3 329.0,210.3 328.5,210.3 328.0,210.3 327.5,210.3 327.0,210.3 326.5,210.3 326.0,210.3 325.5,210.3 325.0,210.3 324.5,210.3 324.0,210.3 323.5,210.3 323.0,210.3 322.5,210.3 322.0,210.3 321.5,210.3 321.0,210.3 320.5,210.3 320.0,210.3 319.5,210.3 319.0,210.3 318.5,210.3 318.0,210.3 317.5,210.3 317.0,210.3 316.5,210.3 316.0,210.3 315.5,210.3 315.0,210.3 314.5,210.3 314.0,210.3 313.5,210.3 313.0,210.3 312.5,210.3 312.0,210.3 311.5,210.3 311.0,210.3 310.5,210.3 310.0,210.3 309.5,210.3 309.0,210.3 308.5,210.3 308.0,210.3 307.5,210.3 307.0,210.3 306.5,210.3 306.0,210.3 305.5,210.3 305.0,210.3 304.5,210.3 304.0,210.3 303.5,210.3 303.0,210.3 302.5,210.3 302.0,210.3 301.5,210.3 301.0,210.3 300.5,210.3 300.0,210.3 299.5,210.3 299.0,210.3 298.5,210.3 298.0,210.3 297.5,210.3 297.0,210.3 296.5,210.3 296.0,210.3 295.5,210.3 295.0,210.3 294.5,210.3 294.0,210.3 293.5,210.3 293.0,210.3 292.5,210.3 292.0,210.3 291.5,210.3 291.0,210.3 290.5,210.3 290.0,210.3 289.5,210.3 289.0,210.3 288.5,210.3 288.0,210.3 287.5,210.3 287.0,210.3 286.5,210.3 286.0,210.3 285.5,210.3 285.0,210.3 284.5,210.3 284.0,210.3 283.5,210.3 283.0,210.3 282.5,210.3 282.0,210.3 281.5,210.3 281.0,210.3 280.5,210.3 280.0,210.3 279.5,210.3 279.0,210.3 278.5,210.3 278.0,210.3 277.5,210.3 277.0,210.3 276.5,210.3 276.0,210.3 275.5,210.3 275.0,210.3 274.5,210.3 274.0,210.3 273.5,210.3 273.0,210.3 272.5,210.3 272.0,210.3 271.5,210.3 271.0,210.3 270.5,210.3 270.0,210.3 269.5,210.3 269.0,210.3 268.5,210.3 268.0,210.3 267.5,210.3 267.0,210.3 266.5,210.3 266.0,210.3 265.5,210.3 265.0,210.3 264.5,210.3 264.0,210.3 263.5,210.3 263.0,210.3 262.5,210.3 262.0,210.3 261.5,210.3 261.0,210.3 260.5,210.3 260.0,210.3 259.5,210.3 259.0,210.3 258.5,210.3 258.0,210.3 257.5,210.3 257.0,210.3 256.5,210.3 256.0,210.3 255.5,210.3 255.0,210.3 254.5,210.3 254.0,210.3 253.5,210.3 253.0,210.3 252.5,210.3 252.0,210.3 251.5,210.3 251.0,210.3 250.5,210.3 250.0,210.3 249.5,210.3 249.0,210.3 248.5,210.3 248.0,210.3 247.5,210.3 247.0,210.3 246.5,210.3" fill="#7E2F8E" stroke="#7E2F8E" stroke-width="0.3"/>
<line x1="358.10" y1="45.3" x2="358.10" y2="178.0" stroke="#7E2F8E" stroke-width="1.8"/>
<polygon points="246.5,181.7 247.0,185.3 247.5,186.0 248.0,182.8 248.5,182.1 249.0,182.0 249.5,182.2 250.0,195.3 250.5,183.8 251.0,183.6 251.5,180.2 252.0,180.1 252.5,184.7 253.0,185.3 253.5,187.3 254.0,187.7 254.5,183.6 255.0,177.9 255.5,183.7 256.0,185.5 256.5,184.1 257.0,181.6 257.5,183.4 258.0,182.4 258.5,182.2 259.0,184.8 259.5,183.0 260.0,199.3 260.5,182.6 261.0,181.3 261.5,181.5 262.0,182.4 262.5,181.3 263.0,180.5 263.5,182.3 264.0,181.8 264.5,181.3 265.0,183.1 265.5,182.3 266.0,182.3 266.5,179.5 267.0,181.7 267.5,180.3 268.0,190.6 268.5,183.9 269.0,182.2 269.5,185.9 270.0,186.1 270.5,189.6 271.0,183.5 271.5,200.5 272.0,183.5 272.5,182.2 273.0,181.5 273.5,191.9 274.0,178.2 274.5,179.5 275.0,180.7 275.5,185.4 276.0,179.9 276.5,180.1 277.0,182.1 277.5,179.7 278.0,179.0 278.5,180.6 279.0,181.4 279.5,182.6 280.0,179.3 280.5,179.4 281.0,181.7 281.5,182.8 282.0,181.0 282.5,182.6 283.0,191.2 283.5,185.8 284.0,177.5 284.5,180.1 285.0,178.4 285.5,178.1 286.0,180.6 286.5,178.2 287.0,178.5 287.5,175.2 288.0,174.7 288.5,178.9 289.0,178.2 289.5,180.3 290.0,178.5 290.5,178.6 291.0,178.1 291.5,178.0 292.0,176.7 292.5,176.9 293.0,175.4 293.5,199.3 294.0,179.4 294.5,177.2 295.0,175.2 295.5,179.4 296.0,172.6 296.5,173.8 297.0,176.1 297.5,175.3 298.0,180.2 298.5,175.2 299.0,176.0 299.5,177.0 300.0,175.8 300.5,198.9 301.0,175.1 301.5,173.3 302.0,175.5 302.5,185.5 303.0,184.9 303.5,178.9 304.0,171.2 304.5,179.3 305.0,174.5 305.5,168.7 306.0,177.7 306.5,173.3 307.0,175.3 307.5,173.9 308.0,172.4 308.5,175.4 309.0,176.6 309.5,194.1 310.0,175.8 310.5,182.0 311.0,174.3 311.5,175.6 312.0,174.8 312.5,177.3 313.0,209.1 313.5,177.4 314.0,177.4 314.5,175.7 315.0,184.7 315.5,178.6 316.0,175.5 316.5,178.6 317.0,188.3 317.5,174.4 318.0,180.2 318.5,175.9 319.0,174.9 319.5,175.9 320.0,174.9 320.5,175.3 321.0,173.8 321.5,175.8 322.0,176.1 322.5,179.5 323.0,177.2 323.5,186.7 324.0,176.2 324.5,179.0 325.0,183.1 325.5,179.1 326.0,179.0 326.5,175.6 327.0,177.2 327.5,177.4 328.0,180.4 328.5,179.1 329.0,180.6 329.5,176.7 330.0,179.0 330.5,177.9 331.0,178.5 331.5,178.8 332.0,179.9 332.5,178.4 333.0,179.8 333.5,179.9 334.0,182.0 334.5,182.1 335.0,179.1 335.5,179.5 336.0,175.8 336.5,179.9 337.0,180.4 337.5,182.3 338.0,181.0 338.5,183.2 339.0,182.5 339.5,183.1 340.0,183.3 340.5,185.5 341.0,181.9 341.5,182.4 342.0,186.0 342.5,184.0 343.0,184.8 343.5,184.5 344.0,183.2 344.5,189.9 345.0,183.1 345.5,181.3 346.0,185.1 346.5,177.4 347.0,188.1 347.5,184.4 348.0,185.0 348.5,178.6 349.0,180.5 349.5,187.2 350.0,182.6 350.5,179.3 351.0,182.1 351.5,185.1 352.0,181.9 352.5,183.2 353.0,181.9 353.5,181.6 354.0,179.6 354.5,178.6 355.0,179.3 355.5,177.4 356.0,178.5 356.5,177.3 357.0,175.4 357.5,174.7 358.0,174.1 358.5,173.0 359.0,172.3 359.5,171.0 360.0,168.0 360.5,168.0 361.0,168.5 361.5,168.9 362.0,168.7 362.5,167.5 363.0,167.4 363.5,168.4 364.0,168.8 364.5,169.8 365.0,169.4 365.5,168.6 366.0,168.9 366.5,169.1 367.0,169.2 367.5,169.3 368.0,168.6 368.5,169.6 369.0,169.8 369.5,169.5 370.0,170.9 370.5,170.6 371.0,171.1 371.5,170.4 372.0,169.3 372.5,171.3 373.0,170.4 373.5,171.1 374.0,171.8 374.5,172.4 375.0,173.9 375.5,174.0 376.0,174.4 376.5,175.3 377.0,176.5 377.5,177.6 378.0,179.7 378.5,180.1 379.0,182.2 379.5,180.7 380.0,178.7 380.5,181.6 381.0,185.9 381.5,184.5 382.0,184.9 382.5,185.3 383.0,191.7 383.5,189.8 384.0,186.8 384.5,187.0 385.0,185.2 385.5,184.0 386.0,184.6 386.5,185.2 387.0,183.5 387.5,184.6 388.0,185.0 388.5,199.8 389.0,184.9 389.5,192.9 390.0,181.0 390.5,182.8 391.0,184.0 391.5,196.4 392.0,185.1 392.5,186.1 393.0,187.1 393.5,183.0 394.0,186.1 394.5,183.1 395.0,183.4 395.5,185.5 396.0,180.3 396.5,187.2 397.0,184.2 397.5,183.6 398.0,185.3 398.5,182.5 399.0,183.2 399.5,180.9 400.0,184.6 400.5,184.2 401.0,187.4 401.5,182.3 402.0,183.8 402.5,187.2 403.0,194.0 403.5,187.6 404.0,184.6 404.5,184.7 405.0,183.6 405.5,182.0 406.0,185.8 406.5,188.4 407.0,186.0 407.5,194.5 408.0,184.9 408.5,183.0 409.0,187.3 409.5,184.4 410.0,183.1 410.5,180.9 411.0,186.6 411.5,195.1 412.0,186.4 412.5,197.7 413.0,185.8 413.5,185.2 414.0,184.6 414.5,184.6 415.0,184.3 415.5,185.7 416.0,184.1 416.5,186.1 416.5,210.3 416.0,210.3 415.5,210.3 415.0,210.3 414.5,210.3 414.0,210.3 413.5,210.3 413.0,210.3 412.5,210.3 412.0,210.3 411.5,210.3 411.0,210.3 410.5,210.3 410.0,210.3 409.5,210.3 409.0,210.3 408.5,210.3 408.0,210.3 407.5,210.3 407.0,210.3 406.5,210.3 406.0,210.3 405.5,210.3 405.0,210.3 404.5,210.3 404.0,210.3 403.5,210.3 403.0,210.3 402.5,210.3 402.0,210.3 401.5,210.3 401.0,210.3 400.5,210.3 400.0,210.3 399.5,210.3 399.0,210.3 398.5,210.3 398.0,210.3 397.5,210.3 397.0,210.3 396.5,210.3 396.0,210.3 395.5,210.3 395.0,210.3 394.5,210.3 394.0,210.3 393.5,210.3 393.0,210.3 392.5,210.3 392.0,210.3 391.5,210.3 391.0,210.3 390.5,210.3 390.0,210.3 389.5,210.3 389.0,210.3 388.5,210.3 388.0,210.3 387.5,210.3 387.0,210.3 386.5,210.3 386.0,210.3 385.5,210.3 385.0,210.3 384.5,210.3 384.0,210.3 383.5,210.3 383.0,210.3 382.5,210.3 382.0,210.3 381.5,210.3 381.0,210.3 380.5,210.3 380.0,210.3 379.5,210.3 379.0,210.3 378.5,210.3 378.0,210.3 377.5,210.3 377.0,210.3 376.5,210.2 376.0,201.6 375.5,194.4 375.0,185.7 374.5,181.9 374.0,180.1 373.5,179.0 373.0,177.4 372.5,176.2 372.0,174.5 371.5,174.7 371.0,174.1 370.5,175.2 370.0,173.4 369.5,172.1 369.0,172.3 368.5,171.7 368.0,171.5 367.5,171.5 367.0,172.7 366.5,172.4 366.0,172.1 365.5,171.1 365.0,171.6 364.5,171.6 364.0,171.3 363.5,171.5 363.0,171.4 362.5,171.2 362.0,171.5 361.5,172.3 361.0,174.5 360.5,174.2 360.0,174.7 359.5,177.1 359.0,176.8 358.5,178.1 358.0,177.8 357.5,178.2 357.0,179.4 356.5,181.4 356.0,181.6 355.5,182.2 355.0,182.0 354.5,183.5 354.0,183.6 353.5,184.5 353.0,186.7 352.5,186.6 352.0,187.4 351.5,188.2 351.0,189.6 350.5,189.2 350.0,190.2 349.5,192.6 349.0,191.9 348.5,193.3 348.0,194.7 347.5,195.0 347.0,196.4 346.5,196.3 346.0,197.4 345.5,197.2 345.0,197.5 344.5,200.1 344.0,200.4 343.5,202.3 343.0,202.0 342.5,202.6 342.0,203.1 341.5,205.7 341.0,204.9 340.5,208.1 340.0,206.8 339.5,208.5 339.0,208.5 338.5,209.7 338.0,210.3 337.5,210.3 337.0,210.3 336.5,210.3 336.0,210.3 335.5,210.3 335.0,210.3 334.5,210.3 334.0,210.3 333.5,210.3 333.0,210.3 332.5,210.3 332.0,210.3 331.5,210.3 331.0,210.3 330.5,210.3 330.0,210.3 329.5,210.3 329.0,210.3 328.5,210.3 328.0,210.3 327.5,210.3 327.0,210.3 326.5,210.3 326.0,210.3 325.5,210.3 325.0,210.3 324.5,210.3 324.0,210.3 323.5,210.3 323.0,210.3 322.5,210.3 322.0,210.3 321.5,210.3 321.0,210.3 320.5,210.3 320.0,210.3 319.5,210.3 319.0,210.3 318.5,210.3 318.0,210.3 317.5,210.3 317.0,210.3 316.5,210.3 316.0,210.3 315.5,210.3 315.0,210.3 314.5,210.3 314.0,210.3 313.5,210.3 313.0,210.3 312.5,210.3 312.0,210.3 311.5,210.3 311.0,210.3 310.5,210.3 310.0,210.3 309.5,210.3 309.0,210.3 308.5,210.3 308.0,210.3 307.5,210.3 307.0,210.3 306.5,210.3 306.0,210.3 305.5,210.3 305.0,210.3 304.5,210.3 304.0,210.3 303.5,210.3 303.0,210.3 302.5,210.3 302.0,210.3 301.5,210.3 301.0,210.3 300.5,210.3 300.0,210.3 299.5,210.3 299.0,210.3 298.5,210.3 298.0,210.3 297.5,210.3 297.0,210.3 296.5,210.3 296.0,210.3 295.5,210.3 295.0,210.3 294.5,210.3 294.0,210.3 293.5,210.3 293.0,210.3 292.5,210.3 292.0,210.3 291.5,210.3 291.0,210.3 290.5,210.3 290.0,210.3 289.5,210.3 289.0,210.3 288.5,210.3 288.0,210.3 287.5,210.3 287.0,210.3 286.5,210.3 286.0,210.3 285.5,210.3 285.0,210.3 284.5,210.3 284.0,210.3 283.5,210.3 283.0,210.3 282.5,210.3 282.0,210.3 281.5,210.3 281.0,210.3 280.5,210.3 280.0,210.3 279.5,210.3 279.0,210.3 278.5,210.3 278.0,210.3 277.5,210.3 277.0,210.3 276.5,210.3 276.0,210.3 275.5,210.3 275.0,210.3 274.5,210.3 274.0,210.3 273.5,210.3 273.0,210.3 272.5,210.3 272.0,210.3 271.5,210.3 271.0,210.3 270.5,210.3 270.0,210.3 269.5,210.3 269.0,210.3 268.5,210.3 268.0,210.3 267.5,210.3 267.0,210.3 266.5,210.3 266.0,210.3 265.5,210.3 265.0,210.3 264.5,210.3 264.0,210.3 263.5,210.3 263.0,210.3 262.5,210.3 262.0,210.3 261.5,210.3 261.0,210.3 260.5,210.3 260.0,210.3 259.5,210.3 259.0,210.3 258.5,210.3 258.0,210.3 257.5,210.3 257.0,210.3 256.5,210.3 256.0,210.3 255.5,210.3 255.0,210.3 254.5,210.3 254.0,210.3 253.5,210.3 253.0,210.3 252.5,210.3 252.0,210.3 251.5,210.3 251.0,210.3 250.5,210.3 250.0,210.3 249.5,210.3 249.0,210.3 248.5,210.3 248.0,210.3 247.5,210.3 247.0,210.3 246.5,210.3" fill="#77AC30" stroke="#77AC30" stroke-width="0.3"/>
<line x1="360.60" y1="63.0" x2="360.60" y2="178.0" stroke="#77AC30" stroke-width="1.8"/>
<polygon points="246.5,182.7 247.0,196.2 247.5,181.9 248.0,182.4 248.5,183.1 249.0,184.2 249.5,182.0 250.0,179.9 250.5,180.0 251.0,183.6 251.5,183.4 252.0,183.7 252.5,183.5 253.0,185.2 253.5,185.1 254.0,184.5 254.5,187.8 255.0,180.6 255.5,181.1 256.0,181.4 256.5,179.9 257.0,181.9 257.5,183.5 258.0,183.9 258.5,182.6 259.0,178.0 259.5,178.6 260.0,190.8 260.5,182.5 261.0,181.7 261.5,184.3 262.0,187.7 262.5,192.6 263.0,181.8 263.5,186.0 264.0,182.9 264.5,181.0 265.0,182.9 265.5,181.9 266.0,182.5 266.5,184.8 267.0,181.8 267.5,183.3 268.0,179.9 268.5,184.2 269.0,181.5 269.5,180.1 270.0,186.4 270.5,182.8 271.0,182.8 271.5,182.5 272.0,183.1 272.5,182.3 273.0,181.2 273.5,183.0 274.0,182.2 274.5,201.1 275.0,180.4 275.5,182.3 276.0,180.6 276.5,179.0 277.0,181.3 277.5,181.2 278.0,179.2 278.5,179.6 279.0,179.5 279.5,179.7 280.0,178.1 280.5,172.5 281.0,181.0 281.5,178.0 282.0,180.2 282.5,181.5 283.0,188.7 283.5,179.4 284.0,179.0 284.5,185.9 285.0,180.4 285.5,178.3 286.0,178.4 286.5,179.7 287.0,179.2 287.5,192.1 288.0,179.2 288.5,178.4 289.0,179.4 289.5,176.8 290.0,180.5 290.5,192.5 291.0,175.7 291.5,176.6 292.0,177.8 292.5,186.4 293.0,176.9 293.5,176.4 294.0,178.0 294.5,175.9 295.0,174.3 295.5,177.3 296.0,178.8 296.5,173.7 297.0,176.6 297.5,175.6 298.0,174.2 298.5,184.4 299.0,172.3 299.5,180.9 300.0,175.9 300.5,174.3 301.0,177.5 301.5,177.4 302.0,176.6 302.5,174.9 303.0,177.2 303.5,171.7 304.0,173.2 304.5,175.4 305.0,175.2 305.5,169.8 306.0,194.0 306.5,177.0 307.0,169.4 307.5,180.9 308.0,173.7 308.5,173.3 309.0,175.6 309.5,175.0 310.0,176.4 310.5,172.4 311.0,174.2 311.5,170.9 312.0,175.0 312.5,172.6 313.0,173.9 313.5,175.2 314.0,175.5 314.5,175.2 315.0,176.6 315.5,176.0 316.0,175.8 316.5,177.1 317.0,184.6 317.5,179.3 318.0,175.8 318.5,176.3 319.0,175.2 319.5,176.5 320.0,170.4 320.5,177.6 321.0,179.8 321.5,180.6 322.0,177.3 322.5,178.2 323.0,179.5 323.5,178.5 324.0,182.4 324.5,183.7 325.0,176.3 325.5,177.9 326.0,175.4 326.5,183.8 327.0,176.8 327.5,175.9 328.0,179.5 328.5,178.4 329.0,179.1 329.5,181.4 330.0,177.9 330.5,178.5 331.0,186.5 331.5,188.7 332.0,181.1 332.5,182.0 333.0,173.4 333.5,180.5 334.0,180.6 334.5,179.1 335.0,176.7 335.5,192.3 336.0,189.0 336.5,181.1 337.0,180.8 337.5,200.0 338.0,184.7 338.5,179.2 339.0,185.4 339.5,180.9 340.0,183.6 340.5,185.1 341.0,185.3 341.5,186.3 342.0,179.9 342.5,200.0 343.0,184.2 343.5,184.8 344.0,184.2 344.5,185.9 345.0,179.9 345.5,182.4 346.0,183.5 346.5,181.8 347.0,182.6 347.5,181.3 348.0,180.9 348.5,180.4 349.0,181.3 349.5,186.5 350.0,177.8 350.5,187.8 351.0,179.2 351.5,179.9 352.0,181.3 352.5,183.2 353.0,185.3 353.5,184.9 354.0,180.7 354.5,181.4 355.0,182.0 355.5,179.5 356.0,178.5 356.5,180.3 357.0,177.4 357.5,178.8 358.0,177.1 358.5,177.3 359.0,175.9 359.5,174.6 360.0,174.8 360.5,173.1 361.0,171.4 361.5,171.7 362.0,169.9 362.5,169.5 363.0,169.3 363.5,165.0 364.0,165.0 364.5,164.9 365.0,165.0 365.5,166.7 366.0,165.6 366.5,166.3 367.0,165.0 367.5,165.5 368.0,165.4 368.5,165.6 369.0,165.8 369.5,166.1 370.0,166.1 370.5,165.9 371.0,167.4 371.5,166.2 372.0,167.4 372.5,166.7 373.0,166.6 373.5,168.2 374.0,166.8 374.5,167.2 375.0,168.3 375.5,168.4 376.0,168.4 376.5,169.9 377.0,171.2 377.5,171.4 378.0,171.7 378.5,172.5 379.0,172.5 379.5,174.0 380.0,174.0 380.5,174.5 381.0,176.3 381.5,178.2 382.0,179.6 382.5,180.8 383.0,181.6 383.5,183.8 384.0,184.4 384.5,184.7 385.0,184.8 385.5,189.8 386.0,184.4 386.5,188.4 387.0,193.4 387.5,183.1 388.0,182.7 388.5,182.7 389.0,186.5 389.5,181.9 390.0,189.4 390.5,186.1 391.0,188.3 391.5,185.1 392.0,182.0 392.5,185.8 393.0,186.3 393.5,184.8 394.0,185.8 394.5,182.3 395.0,210.3 395.5,183.3 396.0,189.9 396.5,184.6 397.0,195.2 397.5,185.5 398.0,186.2 398.5,196.2 399.0,185.5 399.5,184.0 400.0,183.3 400.5,185.4 401.0,183.1 401.5,182.8 402.0,185.5 402.5,182.2 403.0,185.4 403.5,186.9 404.0,183.7 404.5,193.9 405.0,183.6 405.5,184.3 406.0,186.1 406.5,184.3 407.0,189.0 407.5,184.4 408.0,186.1 408.5,187.3 409.0,192.8 409.5,181.9 410.0,186.7 410.5,188.0 411.0,184.3 411.5,180.0 412.0,188.5 412.5,184.9 413.0,184.6 413.5,191.4 414.0,186.9 414.5,187.1 415.0,186.7 415.5,188.2 416.0,186.9 416.5,189.4 416.5,210.3 416.0,210.3 415.5,210.3 415.0,210.3 414.5,210.3 414.0,210.3 413.5,210.3 413.0,210.3 412.5,210.3 412.0,210.3 411.5,210.3 411.0,210.3 410.5,210.3 410.0,210.3 409.5,210.3 409.0,210.3 408.5,210.3 408.0,210.3 407.5,210.3 407.0,210.3 406.5,210.3 406.0,210.3 405.5,210.3 405.0,210.3 404.5,210.3 404.0,210.3 403.5,210.3 403.0,210.3 402.5,210.3 402.0,210.3 401.5,210.3 401.0,210.3 400.5,210.3 400.0,210.3 399.5,210.3 399.0,210.3 398.5,210.3 398.0,210.3 397.5,210.3 397.0,210.3 396.5,210.3 396.0,210.3 395.5,210.3 395.0,210.3 394.5,210.3 394.0,210.3 393.5,210.3 393.0,210.3 392.5,210.3 392.0,210.3 391.5,210.3 391.0,210.3 390.5,210.3 390.0,210.3 389.5,210.3 389.0,210.3 388.5,210.3 388.0,210.3 387.5,210.3 387.0,210.3 386.5,210.3 386.0,210.3 385.5,210.3 385.0,210.3 384.5,210.3 384.0,210.3 383.5,210.3 383.0,210.3 382.5,210.3 382.0,210.3 381.5,210.3 381.0,210.3 380.5,203.6 380.0,198.0 379.5,192.7 379.0,185.1 378.5,184.0 378.0,181.4 377.5,180.9 377.0,179.4 376.5,178.0 376.0,177.5 375.5,176.0 375.0,174.1 374.5,173.3 374.0,172.9 373.5,172.7 373.0,171.6 372.5,171.2 372.0,171.6 371.5,169.9 371.0,169.6 370.5,169.7 370.0,169.4 369.5,168.2 369.0,170.9 368.5,168.7 368.0,168.5 367.5,169.5 367.0,168.6 366.5,169.0 366.0,167.4 365.5,169.1 365.0,169.6 364.5,170.4 364.0,170.7 363.5,172.4 363.0,174.1 362.5,174.4 362.0,174.7 361.5,175.8 361.0,176.4 360.5,176.8 360.0,177.1 359.5,177.9 359.0,181.1 358.5,180.3 358.0,180.6 357.5,182.9 357.0,183.0 356.5,183.8 356.0,184.6 355.5,185.6 355.0,185.7 354.5,185.6 354.0,186.8 353.5,188.8 353.0,189.5 352.5,189.9 352.0,191.0 351.5,191.9 351.0,191.8 350.5,193.7 350.0,193.4 349.5,194.7 349.0,195.5 348.5,196.3 348.0,197.8 347.5,199.0 347.0,198.5 346.5,200.0 346.0,200.6 345.5,201.6 345.0,202.7 344.5,202.7 344.0,203.9 343.5,203.9 343.0,204.7 342.5,205.0 342.0,206.2 341.5,207.0 341.0,208.1 340.5,208.8 340.0,208.7 339.5,210.3 339.0,210.3 338.5,210.3 338.0,210.3 337.5,210.3 337.0,210.3 336.5,210.3 336.0,210.3 335.5,210.3 335.0,210.3 334.5,210.3 334.0,210.3 333.5,210.3 333.0,210.3 332.5,210.3 332.0,210.3 331.5,210.3 331.0,210.3 330.5,210.3 330.0,210.3 329.5,210.3 329.0,210.3 328.5,210.3 328.0,210.3 327.5,210.3 327.0,210.3 326.5,210.3 326.0,210.3 325.5,210.3 325.0,210.3 324.5,210.3 324.0,210.3 323.5,210.3 323.0,210.3 322.5,210.3 322.0,210.3 321.5,210.3 321.0,210.3 320.5,210.3 320.0,210.3 319.5,210.3 319.0,210.3 318.5,210.3 318.0,210.3 317.5,210.3 317.0,210.3 316.5,210.3 316.0,210.3 315.5,210.3 315.0,210.3 314.5,210.3 314.0,210.3 313.5,210.3 313.0,210.3 312.5,210.3 312.0,210.3 311.5,210.3 311.0,210.3 310.5,210.3 310.0,210.3 309.5,210.3 309.0,210.3 308.5,210.3 308.0,210.3 307.5,210.3 307.0,210.3 306.5,210.3 306.0,210.3 305.5,210.3 305.0,210.3 304.5,210.3 304.0,210.3 303.5,210.3 303.0,210.3 302.5,210.3 302.0,210.3 301.5,210.3 301.0,210.3 300.5,210.3 300.0,210.3 299.5,210.3 299.0,210.3 298.5,210.3 298.0,210.3 297.5,210.3 297.0,210.3 296.5,210.3 296.0,210.3 295.5,210.3 295.0,210.3 294.5,210.3 294.0,210.3 293.5,210.3 293.0,210.3 292.5,210.3 292.0,210.3 291.5,210.3 291.0,210.3 290.5,210.3 290.0,210.3 289.5,210.3 289.0,210.3 288.5,210.3 288.0,210.3 287.5,210.3 287.0,210.3 286.5,210.3 286.0,210.3 285.5,210.3 285.0,210.3 284.5,210.3 284.0,210.3 283.5,210.3 283.0,210.3 282.5,210.3 282.0,210.3 281.5,210.3 281.0,210.3 280.5,210.3 280.0,210.3 279.5,210.3 279.0,210.3 278.5,210.3 278.0,210.3 277.5,210.3 277.0,210.3 276.5,210.3 276.0,210.3 275.5,210.3 275.0,210.3 274.5,210.3 274.0,210.3 273.5,210.3 273.0,210.3 272.5,210.3 272.0,210.3 271.5,210.3 271.0,210.3 270.5,210.3 270.0,210.3 269.5,210.3 269.0,210.3 268.5,210.3 268.0,210.3 267.5,210.3 267.0,210.3 266.5,210.3 266.0,210.3 265.5,210.3 265.0,210.3 264.5,210.3 264.0,210.3 263.5,210.3 263.0,210.3 262.5,210.3 262.0,210.3 261.5,210.3 261.0,210.3 260.5,210.3 260.0,210.3 259.5,210.3 259.0,210.3 258.5,210.3 258.0,210.3 257.5,210.3 257.0,210.3 256.5,210.3 256.0,210.3 255.5,210.3 255.0,210.3 254.5,210.3 254.0,210.3 253.5,210.3 253.0,210.3 252.5,210.3 252.0,210.3 251.5,210.3 251.0,210.3 250.5,210.3 250.0,210.3 249.5,210.3 249.0,210.3 248.5,210.3 248.0,210.3 247.5,210.3 247.0,210.3 246.5,210.3" fill="#4DBEEE" stroke="#4DBEEE" stroke-width="0.3"/>
<line x1="363.70" y1="36.6" x2="363.70" y2="178.0" stroke="#4DBEEE" stroke-width="1.8"/>
<polygon points="246.5,189.9 247.0,182.2 247.5,180.5 248.0,179.3 248.5,183.7 249.0,180.4 249.5,183.0 250.0,192.2 250.5,181.5 251.0,181.5 251.5,184.2 252.0,194.3 252.5,182.0 253.0,210.3 253.5,191.2 254.0,182.4 254.5,193.3 255.0,185.2 255.5,184.0 256.0,186.7 256.5,184.2 257.0,181.2 257.5,187.6 258.0,180.8 258.5,182.0 259.0,184.1 259.5,183.4 260.0,182.6 260.5,180.1 261.0,186.0 261.5,181.1 262.0,184.6 262.5,182.0 263.0,181.8 263.5,176.3 264.0,180.9 264.5,181.2 265.0,192.2 265.5,186.8 266.0,182.7 266.5,181.0 267.0,180.7 267.5,182.6 268.0,186.7 268.5,191.5 269.0,183.2 269.5,182.5 270.0,186.8 270.5,182.9 271.0,179.8 271.5,183.9 272.0,180.6 272.5,188.6 273.0,188.5 273.5,181.7 274.0,179.7 274.5,182.4 275.0,182.9 275.5,181.5 276.0,183.9 276.5,177.9 277.0,178.0 277.5,181.3 278.0,183.8 278.5,180.7 279.0,181.3 279.5,179.3 280.0,179.3 280.5,177.5 281.0,178.1 281.5,180.0 282.0,179.8 282.5,176.6 283.0,182.6 283.5,180.0 284.0,178.7 284.5,178.5 285.0,179.7 285.5,187.6 286.0,181.1 286.5,180.4 287.0,176.5 287.5,176.5 288.0,175.6 288.5,178.2 289.0,184.3 289.5,176.8 290.0,199.9 290.5,175.9 291.0,179.8 291.5,183.0 292.0,181.4 292.5,176.8 293.0,184.7 293.5,177.2 294.0,179.2 294.5,178.1 295.0,178.3 295.5,176.2 296.0,175.2 296.5,174.5 297.0,173.4 297.5,175.2 298.0,174.0 298.5,177.5 299.0,173.7 299.5,175.9 300.0,173.8 300.5,173.1 301.0,175.3 301.5,174.9 302.0,176.1 302.5,174.2 303.0,175.4 303.5,175.4 304.0,174.6 304.5,181.8 305.0,174.5 305.5,192.8 306.0,189.5 306.5,175.7 307.0,173.9 307.5,175.4 308.0,178.9 308.5,175.1 309.0,200.2 309.5,175.0 310.0,175.3 310.5,174.1 311.0,175.7 311.5,174.1 312.0,169.6 312.5,185.8 313.0,173.4 313.5,174.6 314.0,173.6 314.5,174.9 315.0,174.4 315.5,172.2 316.0,176.0 316.5,172.5 317.0,173.3 317.5,175.8 318.0,194.5 318.5,180.7 319.0,176.9 319.5,188.5 320.0,176.8 320.5,177.8 321.0,177.9 321.5,184.4 322.0,174.6 322.5,185.1 323.0,181.7 323.5,177.0 324.0,176.8 324.5,177.3 325.0,179.3 325.5,179.7 326.0,177.5 326.5,180.0 327.0,179.3 327.5,181.8 328.0,178.8 328.5,178.9 329.0,177.0 329.5,178.1 330.0,178.7 330.5,182.9 331.0,179.2 331.5,177.9 332.0,178.5 332.5,179.0 333.0,178.6 333.5,180.0 334.0,179.4 334.5,177.1 335.0,182.4 335.5,179.4 336.0,180.9 336.5,178.5 337.0,180.1 337.5,179.3 338.0,182.0 338.5,182.1 339.0,181.7 339.5,184.7 340.0,185.6 340.5,183.7 341.0,185.4 341.5,181.6 342.0,182.8 342.5,185.3 343.0,185.0 343.5,184.8 344.0,182.6 344.5,180.9 345.0,183.4 345.5,184.3 346.0,181.7 346.5,180.6 347.0,180.0 347.5,194.2 348.0,196.3 348.5,177.4 349.0,184.2 349.5,184.1 350.0,178.7 350.5,181.1 351.0,181.6 351.5,181.3 352.0,181.8 352.5,178.6 353.0,188.0 353.5,182.3 354.0,178.9 354.5,184.5 355.0,178.0 355.5,184.9 356.0,183.3 356.5,182.7 357.0,181.6 357.5,179.1 358.0,180.3 358.5,179.3 359.0,178.5 359.5,177.5 360.0,177.9 360.5,176.4 361.0,175.2 361.5,175.4 362.0,173.6 362.5,173.0 363.0,172.4 363.5,171.3 364.0,171.3 364.5,170.3 365.0,170.6 365.5,168.3 366.0,169.0 366.5,161.0 367.0,161.0 367.5,161.3 368.0,160.5 368.5,161.3 369.0,162.4 369.5,161.8 370.0,162.0 370.5,162.4 371.0,162.5 371.5,162.8 372.0,161.5 372.5,162.3 373.0,162.3 373.5,162.4 374.0,162.5 374.5,164.4 375.0,163.5 375.5,163.5 376.0,163.2 376.5,163.0 377.0,163.6 377.5,164.0 378.0,163.7 378.5,164.7 379.0,164.3 379.5,162.5 380.0,165.6 380.5,163.5 381.0,164.3 381.5,164.8 382.0,163.8 382.5,163.7 383.0,165.4 383.5,164.4 384.0,167.0 384.5,166.9 385.0,166.7 385.5,168.0 386.0,168.7 386.5,168.3 387.0,167.8 387.5,170.1 388.0,170.5 388.5,169.9 389.0,172.8 389.5,172.6 390.0,173.2 390.5,174.5 391.0,176.7 391.5,178.0 392.0,178.8 392.5,179.8 393.0,181.2 393.5,183.1 394.0,181.5 394.5,181.0 395.0,178.8 395.5,183.1 396.0,183.5 396.5,185.7 397.0,180.6 397.5,181.8 398.0,207.8 398.5,187.8 399.0,186.9 399.5,187.9 400.0,184.7 400.5,185.2 401.0,188.2 401.5,184.6 402.0,183.1 402.5,185.0 403.0,182.0 403.5,188.2 404.0,185.1 404.5,183.1 405.0,187.3 405.5,189.9 406.0,185.5 406.5,183.5 407.0,193.1 407.5,186.5 408.0,184.7 408.5,183.0 409.0,186.8 409.5,185.6 410.0,183.6 410.5,185.3 411.0,186.6 411.5,186.5 412.0,185.8 412.5,182.9 413.0,184.5 413.5,185.6 414.0,186.9 414.5,192.0 415.0,184.1 415.5,187.9 416.0,187.7 416.5,187.0 416.5,210.3 416.0,210.3 415.5,210.3 415.0,210.3 414.5,210.3 414.0,210.3 413.5,210.3 413.0,210.3 412.5,210.3 412.0,210.3 411.5,210.3 411.0,210.3 410.5,210.3 410.0,210.3 409.5,210.3 409.0,210.3 408.5,210.3 408.0,210.3 407.5,210.3 407.0,210.3 406.5,210.3 406.0,210.3 405.5,210.3 405.0,210.3 404.5,210.3 404.0,210.3 403.5,210.3 403.0,210.3 402.5,210.3 402.0,210.3 401.5,210.3 401.0,210.3 400.5,210.3 400.0,210.3 399.5,210.3 399.0,210.3 398.5,210.3 398.0,210.3 397.5,210.3 397.0,210.3 396.5,210.3 396.0,210.3 395.5,210.3 395.0,210.3 394.5,210.3 394.0,210.3 393.5,210.3 393.0,210.3 392.5,210.3 392.0,210.3 391.5,210.3 391.0,210.3 390.5,210.3 390.0,210.3 389.5,210.3 389.0,210.3 388.5,210.3 388.0,210.3 387.5,210.3 387.0,210.3 386.5,210.3 386.0,210.3 385.5,206.7 385.0,202.6 384.5,198.5 384.0,192.2 383.5,189.3 383.0,184.8 382.5,183.5 382.0,182.5 381.5,181.1 381.0,179.2 380.5,178.9 380.0,177.9 379.5,176.3 379.0,174.7 378.5,174.8 378.0,172.9 377.5,172.3 377.0,171.9 376.5,170.6 376.0,170.7 375.5,169.1 375.0,168.9 374.5,168.5 374.0,167.7 373.5,167.2 373.0,167.6 372.5,166.7 372.0,166.4 371.5,166.1 371.0,165.6 370.5,165.3 370.0,164.8 369.5,165.2 369.0,165.4 368.5,166.3 368.0,167.5 367.5,169.0 367.0,169.5 366.5,171.0 366.0,170.8 365.5,173.0 365.0,173.2 364.5,173.7 364.0,175.3 363.5,174.8 363.0,175.8 362.5,177.2 362.0,176.7 361.5,178.2 361.0,180.2 360.5,179.9 360.0,181.4 359.5,182.8 359.0,182.0 358.5,183.5 358.0,184.4 357.5,185.0 357.0,186.0 356.5,186.0 356.0,187.3 355.5,188.1 355.0,187.8 354.5,189.1 354.0,191.7 353.5,192.0 353.0,192.1 352.5,193.5 352.0,193.2 351.5,195.4 351.0,196.9 350.5,196.9 350.0,196.7 349.5,198.4 349.0,197.8 348.5,200.1 348.0,199.9 347.5,201.2 347.0,202.0 346.5,202.2 346.0,204.1 345.5,205.0 345.0,204.2 344.5,205.9 344.0,207.4 343.5,206.2 343.0,208.6 342.5,209.1 342.0,209.2 341.5,210.3 341.0,210.3 340.5,210.3 340.0,210.3 339.5,210.3 339.0,210.3 338.5,210.3 338.0,210.3 337.5,210.3 337.0,210.3 336.5,210.3 336.0,210.3 335.5,210.3 335.0,210.3 334.5,210.3 334.0,210.3 333.5,210.3 333.0,210.3 332.5,210.3 332.0,210.3 331.5,210.3 331.0,210.3 330.5,210.3 330.0,210.3 329.5,210.3 329.0,210.3 328.5,210.3 328.0,210.3 327.5,210.3 327.0,210.3 326.5,210.3 326.0,210.3 325.5,210.3 325.0,210.3 324.5,210.3 324.0,210.3 323.5,210.3 323.0,210.3 322.5,210.3 322.0,210.3 321.5,210.3 321.0,210.3 320.5,210.3 320.0,210.3 319.5,210.3 319.0,210.3 318.5,210.3 318.0,210.3 317.5,210.3 317.0,210.3 316.5,210.3 316.0,210.3 315.5,210.3 315.0,210.3 314.5,210.3 314.0,210.3 313.5,210.3 313.0,210.3 312.5,210.3 312.0,210.3 311.5,210.3 311.0,210.3 310.5,210.3 310.0,210.3 309.5,210.3 309.0,210.3 308.5,210.3 308.0,210.3 307.5,210.3 307.0,210.3 306.5,210.3 306.0,210.3 305.5,210.3 305.0,210.3 304.5,210.3 304.0,210.3 303.5,210.3 303.0,210.3 302.5,210.3 302.0,210.3 301.5,210.3 301.0,210.3 300.5,210.3 300.0,210.3 299.5,210.3 299.0,210.3 298.5,210.3 298.0,210.3 297.5,210.3 297.0,210.3 296.5,210.3 296.0,210.3 295.5,210.3 295.0,210.3 294.5,210.3 294.0,210.3 293.5,210.3 293.0,210.3 292.5,210.3 292.0,210.3 291.5,210.3 291.0,210.3 290.5,210.3 290.0,210.3 289.5,210.3 289.0,210.3 288.5,210.3 288.0,210.3 287.5,210.3 287.0,210.3 286.5,210.3 286.0,210.3 285.5,210.3 285.0,210.3 284.5,210.3 284.0,210.3 283.5,210.3 283.0,210.3 282.5,210.3 282.0,210.3 281.5,210.3 281.0,210.3 280.5,210.3 280.0,210.3 279.5,210.3 279.0,210.3 278.5,210.3 278.0,210.3 277.5,210.3 277.0,210.3 276.5,210.3 276.0,210.3 275.5,210.3 275.0,210.3 274.5,210.3 274.0,210.3 273.5,210.3 273.0,210.3 272.5,210.3 272.0,210.3 271.5,210.3 271.0,210.3 270.5,210.3 270.0,210.3 269.5,210.3 269.0,210.3 268.5,210.3 268.0,210.3 267.5,210.3 267.0,210.3 266.5,210.3 266.0,210.3 265.5,210.3 265.0,210.3 264.5,210.3 264.0,210.3 263.5,210.3 263.0,210.3 262.5,210.3 262.0,210.3 261.5,210.3 261.0,210.3 260.5,210.3 260.0,210.3 259.5,210.3 259.0,210.3 258.5,210.3 258.0,210.3 257.5,210.3 257.0,210.3 256.5,210.3 256.0,210.3 255.5,210.3 255.0,210.3 254.5,210.3 254.0,210.3 253.5,210.3 253.0,210.3 252.5,210.3 252.0,210.3 251.5,210.3 251.0,210.3 250.5,210.3 250.0,210.3 249.5,210.3 249.0,210.3 248.5,210.3 248.0,210.3 247.5,210.3 247.0,210.3 246.5,210.3" fill="#A2142F" stroke="#A2142F" stroke-width="0.3"/>
<line x1="366.90" y1="44.7" x2="366.90" y2="178.0" stroke="#A2142F" stroke-width="1.8"/>
<line x1="368.2" y1="50.5" x2="368.2" y2="172" stroke="#A2142F" stroke-width="1.3"/>
<polygon points="246.5,182.1 247.0,182.2 247.5,182.9 248.0,184.2 248.5,184.3 249.0,187.8 249.5,181.7 250.0,191.0 250.5,186.8 251.0,183.9 251.5,184.2 252.0,182.9 252.5,181.4 253.0,181.7 253.5,179.8 254.0,181.3 254.5,182.1 255.0,191.3 255.5,179.2 256.0,197.2 256.5,182.8 257.0,181.2 257.5,182.2 258.0,183.0 258.5,183.1 259.0,182.3 259.5,179.4 260.0,182.9 260.5,182.3 261.0,182.3 261.5,182.4 262.0,196.3 262.5,179.3 263.0,180.3 263.5,186.5 264.0,181.8 264.5,185.7 265.0,181.9 265.5,185.8 266.0,184.4 266.5,185.3 267.0,203.3 267.5,184.0 268.0,182.9 268.5,183.0 269.0,180.7 269.5,180.7 270.0,180.8 270.5,194.9 271.0,191.2 271.5,180.3 272.0,180.6 272.5,179.6 273.0,192.0 273.5,181.5 274.0,178.3 274.5,179.8 275.0,178.9 275.5,181.0 276.0,184.1 276.5,181.0 277.0,185.9 277.5,184.3 278.0,180.8 278.5,183.0 279.0,183.7 279.5,186.1 280.0,181.7 280.5,182.3 281.0,182.0 281.5,181.3 282.0,176.6 282.5,177.3 283.0,181.2 283.5,180.5 284.0,179.5 284.5,178.4 285.0,179.2 285.5,179.8 286.0,179.4 286.5,180.4 287.0,179.3 287.5,177.4 288.0,187.8 288.5,179.3 289.0,178.0 289.5,175.3 290.0,175.8 290.5,183.0 291.0,178.8 291.5,175.6 292.0,175.4 292.5,174.9 293.0,191.8 293.5,176.6 294.0,173.7 294.5,175.8 295.0,173.5 295.5,179.3 296.0,176.6 296.5,204.7 297.0,176.2 297.5,174.4 298.0,191.4 298.5,176.7 299.0,172.3 299.5,181.2 300.0,174.6 300.5,176.1 301.0,172.1 301.5,176.5 302.0,173.5 302.5,175.5 303.0,176.1 303.5,175.9 304.0,173.1 304.5,174.1 305.0,174.4 305.5,175.0 306.0,174.9 306.5,176.0 307.0,176.8 307.5,173.8 308.0,172.7 308.5,183.0 309.0,171.0 309.5,175.7 310.0,171.3 310.5,174.0 311.0,174.7 311.5,174.1 312.0,176.8 312.5,179.2 313.0,173.3 313.5,176.3 314.0,175.1 314.5,176.2 315.0,174.3 315.5,175.0 316.0,174.4 316.5,175.2 317.0,177.5 317.5,177.2 318.0,193.7 318.5,176.6 319.0,174.0 319.5,173.7 320.0,171.9 320.5,175.0 321.0,189.7 321.5,172.2 322.0,176.8 322.5,178.5 323.0,181.0 323.5,181.5 324.0,182.7 324.5,187.0 325.0,176.3 325.5,175.3 326.0,176.5 326.5,176.7 327.0,183.9 327.5,178.2 328.0,177.0 328.5,176.5 329.0,176.8 329.5,174.7 330.0,178.3 330.5,179.1 331.0,191.4 331.5,180.2 332.0,180.5 332.5,182.5 333.0,179.3 333.5,178.8 334.0,180.3 334.5,180.9 335.0,179.0 335.5,179.7 336.0,179.2 336.5,185.5 337.0,179.7 337.5,181.9 338.0,192.3 338.5,180.5 339.0,194.7 339.5,182.7 340.0,178.2 340.5,184.9 341.0,184.3 341.5,183.8 342.0,182.7 342.5,183.0 343.0,182.6 343.5,183.7 344.0,192.3 344.5,190.3 345.0,182.5 345.5,183.1 346.0,184.2 346.5,186.4 347.0,181.8 347.5,182.0 348.0,189.3 348.5,183.8 349.0,177.7 349.5,179.4 350.0,190.7 350.5,182.6 351.0,186.7 351.5,182.0 352.0,180.7 352.5,180.3 353.0,181.4 353.5,181.1 354.0,183.8 354.5,181.0 355.0,181.3 355.5,181.3 356.0,177.0 356.5,174.4 357.0,187.0 357.5,179.6 358.0,184.7 358.5,180.7 359.0,182.0 359.5,182.3 360.0,180.6 360.5,181.5 361.0,180.0 361.5,178.6 362.0,177.5 362.5,176.5 363.0,177.6 363.5,176.4 364.0,175.1 364.5,173.9 365.0,173.8 365.5,173.1 366.0,171.6 366.5,171.0 367.0,170.2 367.5,169.1 368.0,168.6 368.5,168.5 369.0,166.8 369.5,167.0 370.0,166.7 370.5,163.4 371.0,148.0 371.5,148.0 372.0,148.0 372.5,148.4 373.0,150.0 373.5,150.6 374.0,153.7 374.5,154.5 375.0,154.6 375.5,156.8 376.0,157.9 376.5,157.0 377.0,157.5 377.5,157.4 378.0,159.1 378.5,158.1 379.0,159.3 379.5,158.6 380.0,160.0 380.5,160.9 381.0,159.5 381.5,160.7 382.0,159.7 382.5,160.6 383.0,160.5 383.5,161.0 384.0,161.6 384.5,161.7 385.0,161.1 385.5,161.6 386.0,161.9 386.5,163.2 387.0,163.7 387.5,163.4 388.0,164.5 388.5,165.0 389.0,165.3 389.5,165.4 390.0,166.4 390.5,167.2 391.0,167.5 391.5,167.6 392.0,169.2 392.5,169.0 393.0,170.2 393.5,169.2 394.0,170.3 394.5,171.6 395.0,171.2 395.5,173.6 396.0,173.3 396.5,174.2 397.0,175.5 397.5,176.3 398.0,176.5 398.5,177.5 399.0,178.6 399.5,179.6 400.0,180.2 400.5,182.1 401.0,183.3 401.5,183.4 402.0,184.1 402.5,184.9 403.0,183.9 403.5,186.4 404.0,183.2 404.5,186.6 405.0,199.5 405.5,188.2 406.0,189.0 406.5,188.1 407.0,187.7 407.5,192.6 408.0,185.8 408.5,183.2 409.0,183.7 409.5,182.8 410.0,188.4 410.5,183.0 411.0,186.1 411.5,185.7 412.0,187.7 412.5,185.0 413.0,185.7 413.5,185.8 414.0,184.4 414.5,190.3 415.0,188.0 415.5,184.0 416.0,191.7 416.5,185.7 416.5,210.3 416.0,210.3 415.5,210.3 415.0,210.3 414.5,210.3 414.0,210.3 413.5,210.3 413.0,210.3 412.5,210.3 412.0,210.3 411.5,210.3 411.0,210.3 410.5,210.3 410.0,210.3 409.5,210.3 409.0,210.3 408.5,210.3 408.0,210.3 407.5,210.3 407.0,210.3 406.5,210.3 406.0,210.3 405.5,210.3 405.0,210.3 404.5,210.3 404.0,210.3 403.5,210.3 403.0,210.3 402.5,210.3 402.0,210.3 401.5,210.3 401.0,210.3 400.5,210.3 400.0,210.3 399.5,210.3 399.0,210.3 398.5,210.3 398.0,210.3 397.5,210.3 397.0,210.3 396.5,210.3 396.0,210.3 395.5,210.3 395.0,210.3 394.5,210.3 394.0,210.3 393.5,204.3 393.0,200.7 392.5,195.1 392.0,189.1 391.5,185.5 391.0,184.1 390.5,182.4 390.0,181.2 389.5,180.2 389.0,179.7 388.5,178.2 388.0,177.2 387.5,175.5 387.0,175.7 386.5,174.6 386.0,173.6 385.5,173.3 385.0,171.3 384.5,171.5 384.0,170.7 383.5,168.7 383.0,167.8 382.5,168.2 382.0,166.0 381.5,165.6 381.0,165.1 380.5,164.6 380.0,163.6 379.5,163.3 379.0,162.6 378.5,163.5 378.0,162.4 377.5,161.5 377.0,161.4 376.5,161.1 376.0,162.5 375.5,160.1 375.0,159.7 374.5,157.6 374.0,157.7 373.5,155.9 373.0,158.4 372.5,161.0 372.0,162.7 371.5,166.2 371.0,168.4 370.5,167.6 370.0,169.2 369.5,170.0 369.0,171.4 368.5,172.4 368.0,172.6 367.5,173.6 367.0,173.7 366.5,174.9 366.0,176.5 365.5,176.6 365.0,177.1 364.5,178.4 364.0,179.3 363.5,180.6 363.0,180.7 362.5,181.4 362.0,181.4 361.5,182.9 361.0,183.0 360.5,185.2 360.0,185.7 359.5,186.4 359.0,186.3 358.5,188.8 358.0,189.5 357.5,188.9 357.0,190.2 356.5,191.1 356.0,191.6 355.5,193.0 355.0,194.8 354.5,194.6 354.0,195.0 353.5,197.1 353.0,196.4 352.5,197.1 352.0,197.8 351.5,199.6 351.0,201.4 350.5,200.0 350.0,201.8 349.5,202.4 349.0,203.4 348.5,203.8 348.0,204.9 347.5,205.7 347.0,206.7 346.5,206.8 346.0,206.9 345.5,208.6 345.0,210.2 344.5,210.3 344.0,210.3 343.5,210.3 343.0,210.3 342.5,210.3 342.0,210.3 341.5,210.3 341.0,210.3 340.5,210.3 340.0,210.3 339.5,210.3 339.0,210.3 338.5,210.3 338.0,210.3 337.5,210.3 337.0,210.3 336.5,210.3 336.0,210.3 335.5,210.3 335.0,210.3 334.5,210.3 334.0,210.3 333.5,210.3 333.0,210.3 332.5,210.3 332.0,210.3 331.5,210.3 331.0,210.3 330.5,210.3 330.0,210.3 329.5,210.3 329.0,210.3 328.5,210.3 328.0,210.3 327.5,210.3 327.0,210.3 326.5,210.3 326.0,210.3 325.5,210.3 325.0,210.3 324.5,210.3 324.0,210.3 323.5,210.3 323.0,210.3 322.5,210.3 322.0,210.3 321.5,210.3 321.0,210.3 320.5,210.3 320.0,210.3 319.5,210.3 319.0,210.3 318.5,210.3 318.0,210.3 317.5,210.3 317.0,210.3 316.5,210.3 316.0,210.3 315.5,210.3 315.0,210.3 314.5,210.3 314.0,210.3 313.5,210.3 313.0,210.3 312.5,210.3 312.0,210.3 311.5,210.3 311.0,210.3 310.5,210.3 310.0,210.3 309.5,210.3 309.0,210.3 308.5,210.3 308.0,210.3 307.5,210.3 307.0,210.3 306.5,210.3 306.0,210.3 305.5,210.3 305.0,210.3 304.5,210.3 304.0,210.3 303.5,210.3 303.0,210.3 302.5,210.3 302.0,210.3 301.5,210.3 301.0,210.3 300.5,210.3 300.0,210.3 299.5,210.3 299.0,210.3 298.5,210.3 298.0,210.3 297.5,210.3 297.0,210.3 296.5,210.3 296.0,210.3 295.5,210.3 295.0,210.3 294.5,210.3 294.0,210.3 293.5,210.3 293.0,210.3 292.5,210.3 292.0,210.3 291.5,210.3 291.0,210.3 290.5,210.3 290.0,210.3 289.5,210.3 289.0,210.3 288.5,210.3 288.0,210.3 287.5,210.3 287.0,210.3 286.5,210.3 286.0,210.3 285.5,210.3 285.0,210.3 284.5,210.3 284.0,210.3 283.5,210.3 283.0,210.3 282.5,210.3 282.0,210.3 281.5,210.3 281.0,210.3 280.5,210.3 280.0,210.3 279.5,210.3 279.0,210.3 278.5,210.3 278.0,210.3 277.5,210.3 277.0,210.3 276.5,210.3 276.0,210.3 275.5,210.3 275.0,210.3 274.5,210.3 274.0,210.3 273.5,210.3 273.0,210.3 272.5,210.3 272.0,210.3 271.5,210.3 271.0,210.3 270.5,210.3 270.0,210.3 269.5,210.3 269.0,210.3 268.5,210.3 268.0,210.3 267.5,210.3 267.0,210.3 266.5,210.3 266.0,210.3 265.5,210.3 265.0,210.3 264.5,210.3 264.0,210.3 263.5,210.3 263.0,210.3 262.5,210.3 262.0,210.3 261.5,210.3 261.0,210.3 260.5,210.3 260.0,210.3 259.5,210.3 259.0,210.3 258.5,210.3 258.0,210.3 257.5,210.3 257.0,210.3 256.5,210.3 256.0,210.3 255.5,210.3 255.0,210.3 254.5,210.3 254.0,210.3 253.5,210.3 253.0,210.3 252.5,210.3 252.0,210.3 251.5,210.3 251.0,210.3 250.5,210.3 250.0,210.3 249.5,210.3 249.0,210.3 248.5,210.3 248.0,210.3 247.5,210.3 247.0,210.3 246.5,210.3" fill="#0072BD" stroke="#0072BD" stroke-width="0.3"/>
<line x1="371.60" y1="35.2" x2="371.60" y2="151.0" stroke="#0072BD" stroke-width="1.8"/>
<polygon points="304.2,176 305.3,163.2 306.3,163 307.6,176" fill="#0072BD"/>
<polygon points="325.6,178 326.5,171 327.6,178" fill="#0072BD"/>
<polygon points="261.5,182 262.3,176.5 263.2,182" fill="#0072BD"/>
<polygon points="246.5,196.8 247.0,183.3 247.5,188.5 248.0,185.1 248.5,187.2 249.0,194.2 249.5,184.9 250.0,184.9 250.5,190.7 251.0,185.1 251.5,185.2 252.0,185.5 252.5,186.1 253.0,189.5 253.5,190.2 254.0,184.4 254.5,184.9 255.0,189.8 255.5,194.1 256.0,194.1 256.5,186.9 257.0,194.5 257.5,184.1 258.0,186.7 258.5,185.4 259.0,184.0 259.5,186.3 260.0,186.7 260.5,184.1 261.0,189.1 261.5,185.4 262.0,184.3 262.5,190.5 263.0,184.8 263.5,183.9 264.0,186.2 264.5,192.4 265.0,186.1 265.5,185.6 266.0,188.3 266.5,184.7 267.0,184.7 267.5,184.6 268.0,183.4 268.5,184.9 269.0,196.8 269.5,184.6 270.0,183.9 270.5,199.5 271.0,183.5 271.5,182.7 272.0,185.1 272.5,192.3 273.0,190.6 273.5,181.7 274.0,185.6 274.5,185.7 275.0,186.8 275.5,185.0 276.0,182.7 276.5,188.0 277.0,203.3 277.5,184.1 278.0,189.7 278.5,183.8 279.0,184.1 279.5,199.5 280.0,182.9 280.5,184.8 281.0,181.4 281.5,180.3 282.0,188.9 282.5,184.1 283.0,186.3 283.5,183.6 284.0,184.0 284.5,182.0 285.0,195.9 285.5,202.1 286.0,185.6 286.5,180.2 287.0,183.9 287.5,187.4 288.0,177.7 288.5,192.9 289.0,184.0 289.5,183.1 290.0,183.7 290.5,177.4 291.0,182.6 291.5,190.8 292.0,181.8 292.5,190.3 293.0,182.6 293.5,182.5 294.0,183.2 294.5,180.6 295.0,181.0 295.5,178.8 296.0,181.4 296.5,181.0 297.0,179.8 297.5,184.1 298.0,185.9 298.5,180.1 299.0,180.6 299.5,180.0 300.0,184.4 300.5,180.3 301.0,181.3 301.5,179.8 302.0,177.3 302.5,180.8 303.0,182.6 303.5,183.5 304.0,179.3 304.5,176.6 305.0,177.0 305.5,193.7 306.0,180.6 306.5,179.9 307.0,179.8 307.5,175.8 308.0,183.8 308.5,179.0 309.0,177.6 309.5,180.4 310.0,182.9 310.5,177.9 311.0,179.3 311.5,179.0 312.0,179.7 312.5,179.1 313.0,192.3 313.5,178.8 314.0,178.5 314.5,180.7 315.0,190.1 315.5,193.5 316.0,177.6 316.5,178.9 317.0,178.3 317.5,189.9 318.0,187.0 318.5,178.5 319.0,179.9 319.5,175.1 320.0,179.7 320.5,178.5 321.0,178.0 321.5,177.5 322.0,177.7 322.5,179.8 323.0,180.2 323.5,178.3 324.0,210.3 324.5,184.4 325.0,174.2 325.5,177.6 326.0,189.0 326.5,180.1 327.0,176.1 327.5,179.3 328.0,173.8 328.5,176.2 329.0,182.4 329.5,176.6 330.0,177.1 330.5,172.3 331.0,178.2 331.5,191.5 332.0,177.6 332.5,179.0 333.0,202.6 333.5,183.9 334.0,177.8 334.5,178.7 335.0,197.2 335.5,175.3 336.0,178.4 336.5,187.7 337.0,179.9 337.5,179.2 338.0,179.0 338.5,182.7 339.0,181.2 339.5,182.2 340.0,182.5 340.5,184.1 341.0,182.6 341.5,185.1 342.0,181.9 342.5,182.7 343.0,182.7 343.5,204.2 344.0,183.7 344.5,184.4 345.0,186.8 345.5,186.4 346.0,184.2 346.5,187.2 347.0,184.3 347.5,184.2 348.0,184.8 348.5,189.0 349.0,184.4 349.5,185.5 350.0,195.4 350.5,183.2 351.0,186.1 351.5,192.6 352.0,178.7 352.5,187.4 353.0,184.0 353.5,189.0 354.0,196.1 354.5,184.1 355.0,189.7 355.5,185.3 356.0,183.7 356.5,186.3 357.0,185.6 357.5,184.2 358.0,183.7 358.5,184.0 359.0,184.7 359.5,184.5 360.0,184.9 360.5,182.8 361.0,184.8 361.5,183.4 362.0,183.5 362.5,182.7 363.0,181.9 363.5,184.1 364.0,182.7 364.5,180.4 365.0,179.7 365.5,181.1 366.0,181.3 366.5,180.7 367.0,181.8 367.5,178.0 368.0,181.0 368.5,176.0 369.0,178.4 369.5,175.8 370.0,173.5 370.5,173.2 371.0,170.7 371.5,170.1 372.0,169.1 372.5,167.3 373.0,165.7 373.5,164.6 374.0,164.5 374.5,160.4 375.0,156.3 375.5,153.8 376.0,139.0 376.5,139.0 377.0,139.0 377.5,139.5 378.0,140.8 378.5,142.2 379.0,142.2 379.5,143.8 380.0,145.2 380.5,144.9 381.0,146.5 381.5,145.9 382.0,149.0 382.5,148.9 383.0,151.0 383.5,150.5 384.0,150.3 384.5,151.7 385.0,152.2 385.5,153.2 386.0,154.1 386.5,154.7 387.0,154.1 387.5,155.4 388.0,155.3 388.5,155.9 389.0,158.0 389.5,157.6 390.0,158.2 390.5,157.6 391.0,158.9 391.5,158.8 392.0,160.2 392.5,160.6 393.0,161.9 393.5,163.2 394.0,163.0 394.5,163.7 395.0,165.7 395.5,164.5 396.0,166.4 396.5,168.2 397.0,168.0 397.5,168.3 398.0,169.2 398.5,170.7 399.0,170.7 399.5,172.6 400.0,172.7 400.5,174.0 401.0,173.7 401.5,175.9 402.0,177.7 402.5,176.9 403.0,178.4 403.5,179.6 404.0,178.9 404.5,180.7 405.0,181.3 405.5,181.1 406.0,181.7 406.5,181.8 407.0,181.0 407.5,181.9 408.0,181.7 408.5,182.8 409.0,182.8 409.5,183.3 410.0,182.5 410.5,189.2 411.0,193.9 411.5,184.7 412.0,184.8 412.5,184.7 413.0,192.2 413.5,194.7 414.0,183.1 414.5,180.9 415.0,183.5 415.5,194.1 416.0,186.5 416.5,184.1 416.5,210.3 416.0,210.3 415.5,210.3 415.0,210.3 414.5,210.3 414.0,210.3 413.5,210.3 413.0,210.3 412.5,210.3 412.0,210.3 411.5,210.3 411.0,210.3 410.5,210.3 410.0,210.3 409.5,210.3 409.0,210.3 408.5,210.3 408.0,210.3 407.5,210.3 407.0,210.3 406.5,210.3 406.0,210.3 405.5,210.3 405.0,210.3 404.5,210.3 404.0,210.3 403.5,210.3 403.0,210.3 402.5,210.3 402.0,210.3 401.5,210.3 401.0,210.3 400.5,210.3 400.0,210.3 399.5,210.3 399.0,210.3 398.5,210.3 398.0,210.2 397.5,203.9 397.0,197.5 396.5,192.3 396.0,185.3 395.5,182.8 395.0,181.8 394.5,178.7 394.0,178.4 393.5,176.7 393.0,175.2 392.5,172.6 392.0,172.2 391.5,170.7 391.0,169.7 390.5,167.6 390.0,166.5 389.5,166.0 389.0,164.6 388.5,162.7 388.0,162.5 387.5,159.4 387.0,159.7 386.5,160.0 386.0,158.4 385.5,157.9 385.0,158.0 384.5,156.4 384.0,156.7 383.5,154.9 383.0,154.8 382.5,154.1 382.0,152.6 381.5,152.1 381.0,151.1 380.5,151.7 380.0,150.5 379.5,148.6 379.0,149.1 378.5,148.3 378.0,148.2 377.5,148.1 377.0,148.4 376.5,149.6 376.0,149.3 375.5,157.9 375.0,163.1 374.5,170.3 374.0,175.9 373.5,183.6 373.0,189.9 372.5,195.8 372.0,204.6 371.5,209.8 371.0,210.3 370.5,210.3 370.0,210.3 369.5,210.3 369.0,210.3 368.5,210.3 368.0,210.3 367.5,210.3 367.0,210.3 366.5,210.3 366.0,210.3 365.5,210.3 365.0,210.3 364.5,210.3 364.0,210.3 363.5,210.3 363.0,210.3 362.5,210.3 362.0,210.3 361.5,210.3 361.0,210.3 360.5,210.3 360.0,210.3 359.5,210.3 359.0,210.3 358.5,210.3 358.0,210.3 357.5,210.3 357.0,210.3 356.5,210.3 356.0,210.3 355.5,210.3 355.0,210.3 354.5,210.3 354.0,210.3 353.5,210.3 353.0,210.3 352.5,210.3 352.0,210.3 351.5,210.3 351.0,210.3 350.5,210.3 350.0,210.3 349.5,210.3 349.0,210.3 348.5,210.3 348.0,210.3 347.5,210.3 347.0,210.3 346.5,210.3 346.0,210.3 345.5,210.3 345.0,210.3 344.5,210.3 344.0,210.3 343.5,210.3 343.0,210.3 342.5,210.3 342.0,210.3 341.5,210.3 341.0,210.3 340.5,210.3 340.0,210.3 339.5,210.3 339.0,210.3 338.5,210.3 338.0,210.3 337.5,210.3 337.0,210.3 336.5,210.3 336.0,210.3 335.5,210.3 335.0,210.3 334.5,210.3 334.0,210.3 333.5,210.3 333.0,210.3 332.5,210.3 332.0,210.3 331.5,210.3 331.0,210.3 330.5,210.3 330.0,210.3 329.5,210.3 329.0,210.3 328.5,210.3 328.0,210.3 327.5,210.3 327.0,210.3 326.5,210.3 326.0,210.3 325.5,210.3 325.0,210.3 324.5,210.3 324.0,210.3 323.5,210.3 323.0,210.3 322.5,210.3 322.0,210.3 321.5,210.3 321.0,210.3 320.5,210.3 320.0,210.3 319.5,210.3 319.0,210.3 318.5,210.3 318.0,210.3 317.5,210.3 317.0,210.3 316.5,210.3 316.0,210.3 315.5,210.3 315.0,210.3 314.5,210.3 314.0,210.3 313.5,210.3 313.0,210.3 312.5,210.3 312.0,210.3 311.5,210.3 311.0,210.3 310.5,210.3 310.0,210.3 309.5,210.3 309.0,210.3 308.5,210.3 308.0,210.3 307.5,210.3 307.0,210.3 306.5,210.3 306.0,210.3 305.5,210.3 305.0,210.3 304.5,210.3 304.0,210.3 303.5,210.3 303.0,210.3 302.5,210.3 302.0,210.3 301.5,210.3 301.0,210.3 300.5,210.3 300.0,210.3 299.5,210.3 299.0,210.3 298.5,210.3 298.0,210.3 297.5,210.3 297.0,210.3 296.5,210.3 296.0,210.3 295.5,210.3 295.0,210.3 294.5,210.3 294.0,210.3 293.5,210.3 293.0,210.3 292.5,210.3 292.0,210.3 291.5,210.3 291.0,210.3 290.5,210.3 290.0,210.3 289.5,210.3 289.0,210.3 288.5,210.3 288.0,210.3 287.5,210.3 287.0,210.3 286.5,210.3 286.0,210.3 285.5,210.3 285.0,210.3 284.5,210.3 284.0,210.3 283.5,210.3 283.0,210.3 282.5,210.3 282.0,210.3 281.5,210.3 281.0,210.3 280.5,210.3 280.0,210.3 279.5,210.3 279.0,210.3 278.5,210.3 278.0,210.3 277.5,210.3 277.0,210.3 276.5,210.3 276.0,210.3 275.5,210.3 275.0,210.3 274.5,210.3 274.0,210.3 273.5,210.3 273.0,210.3 272.5,210.3 272.0,210.3 271.5,210.3 271.0,210.3 270.5,210.3 270.0,210.3 269.5,210.3 269.0,210.3 268.5,210.3 268.0,210.3 267.5,210.3 267.0,210.3 266.5,210.3 266.0,210.3 265.5,210.3 265.0,210.3 264.5,210.3 264.0,210.3 263.5,210.3 263.0,210.3 262.5,210.3 262.0,210.3 261.5,210.3 261.0,210.3 260.5,210.3 260.0,210.3 259.5,210.3 259.0,210.3 258.5,210.3 258.0,210.3 257.5,210.3 257.0,210.3 256.5,210.3 256.0,210.3 255.5,210.3 255.0,210.3 254.5,210.3 254.0,210.3 253.5,210.3 253.0,210.3 252.5,210.3 252.0,210.3 251.5,210.3 251.0,210.3 250.5,210.3 250.0,210.3 249.5,210.3 249.0,210.3 248.5,210.3 248.0,210.3 247.5,210.3 247.0,210.3 246.5,210.3" fill="#D95319" stroke="#D95319" stroke-width="0.3"/>
<line x1="376.60" y1="36.8" x2="376.60" y2="142.0" stroke="#D95319" stroke-width="1.8"/></g>
<rect x="255.1" y="27.6" width="47.6" height="126.9" fill="#fff" stroke="#262626" stroke-width="1"/>
<line x1="257" y1="35.20" x2="269.3" y2="35.20" stroke="#0072BD" stroke-width="1.3"/>
<text x="271.20" y="38.60" font-size="9.4" text-anchor="start" font-weight="normal" fill="#000">100mA</text>
<line x1="257" y1="49.15" x2="269.3" y2="49.15" stroke="#D95319" stroke-width="1.3"/>
<text x="271.20" y="52.55" font-size="9.4" text-anchor="start" font-weight="normal" fill="#000">150mA</text>
<line x1="257" y1="63.10" x2="269.3" y2="63.10" stroke="#EDB120" stroke-width="1.3"/>
<text x="271.20" y="66.50" font-size="9.4" text-anchor="start" font-weight="normal" fill="#000">200mA</text>
<line x1="257" y1="77.05" x2="269.3" y2="77.05" stroke="#7E2F8E" stroke-width="1.3"/>
<text x="271.20" y="80.45" font-size="9.4" text-anchor="start" font-weight="normal" fill="#000">250mA</text>
<line x1="257" y1="91.00" x2="269.3" y2="91.00" stroke="#77AC30" stroke-width="1.3"/>
<text x="271.20" y="94.40" font-size="9.4" text-anchor="start" font-weight="normal" fill="#000">300mA</text>
<line x1="257" y1="104.95" x2="269.3" y2="104.95" stroke="#4DBEEE" stroke-width="1.3"/>
<text x="271.20" y="108.35" font-size="9.4" text-anchor="start" font-weight="normal" fill="#000">350mA</text>
<line x1="257" y1="118.90" x2="269.3" y2="118.90" stroke="#A2142F" stroke-width="1.3"/>
<text x="271.20" y="122.30" font-size="9.4" text-anchor="start" font-weight="normal" fill="#000">400mA</text>
<line x1="257" y1="132.85" x2="269.3" y2="132.85" stroke="#0072BD" stroke-width="1.3"/>
<text x="271.20" y="136.25" font-size="9.4" text-anchor="start" font-weight="normal" fill="#000">450mA</text>
<line x1="257" y1="146.80" x2="269.3" y2="146.80" stroke="#D95319" stroke-width="1.3"/>
<text x="271.20" y="150.20" font-size="9.4" text-anchor="start" font-weight="normal" fill="#000">500mA</text>
<text x="335.60" y="11.70" font-size="12.4" text-anchor="middle" font-weight="normal" fill="#262626">(b)</text>
<text x="331.60" y="235.90" font-size="11.8" text-anchor="middle" font-weight="normal" fill="#262626">Wavelength (nm)</text>
<line x1="454.5" y1="201.3" x2="621.6" y2="38.2" stroke="#EDB120" stroke-width="1.3" stroke-dasharray="3 2.5" stroke-dashoffset="1.6"/>
<path d="M460.20,181.71 L461.65,183.51 L460.20,185.31 L458.75,183.51Z" fill="none" stroke="#0072BD" stroke-width="1.1"/>
<path d="M476.31,175.03 L477.76,176.83 L476.31,178.63 L474.86,176.83Z" fill="none" stroke="#0072BD" stroke-width="1.1"/>
<path d="M492.42,163.52 L493.87,165.32 L492.42,167.12 L490.97,165.32Z" fill="none" stroke="#0072BD" stroke-width="1.1"/>
<path d="M508.53,152.24 L509.98,154.04 L508.53,155.84 L507.08,154.04Z" fill="none" stroke="#0072BD" stroke-width="1.1"/>
<path d="M524.64,140.27 L526.09,142.07 L524.64,143.87 L523.19,142.07Z" fill="none" stroke="#0072BD" stroke-width="1.1"/>
<path d="M540.75,124.38 L542.20,126.18 L540.75,127.98 L539.30,126.18Z" fill="none" stroke="#0072BD" stroke-width="1.1"/>
<path d="M556.86,105.73 L558.31,107.53 L556.86,109.33 L555.41,107.53Z" fill="none" stroke="#0072BD" stroke-width="1.1"/>
<path d="M572.97,80.86 L574.42,82.66 L572.97,84.46 L571.52,82.66Z" fill="none" stroke="#0072BD" stroke-width="1.1"/>
<path d="M589.08,53.23 L590.53,55.03 L589.08,56.83 L587.63,55.03Z" fill="none" stroke="#0072BD" stroke-width="1.1"/>
<rect x="454.5" y="25.1" width="167.10000000000002" height="184.20000000000002" fill="none" stroke="#262626" stroke-width="1.1"/>
<line x1="460.70" y1="209.3" x2="460.70" y2="207.70000000000002" stroke="#262626" stroke-width="1"/>
<line x1="460.70" y1="25.1" x2="460.70" y2="26.700000000000003" stroke="#262626" stroke-width="1"/>
<text x="460.70" y="223.00" font-size="10" text-anchor="middle" font-weight="normal" fill="#262626">100</text>
<line x1="492.92" y1="209.3" x2="492.92" y2="207.70000000000002" stroke="#262626" stroke-width="1"/>
<line x1="492.92" y1="25.1" x2="492.92" y2="26.700000000000003" stroke="#262626" stroke-width="1"/>
<text x="492.92" y="223.00" font-size="10" text-anchor="middle" font-weight="normal" fill="#262626">200</text>
<line x1="525.14" y1="209.3" x2="525.14" y2="207.70000000000002" stroke="#262626" stroke-width="1"/>
<line x1="525.14" y1="25.1" x2="525.14" y2="26.700000000000003" stroke="#262626" stroke-width="1"/>
<text x="525.14" y="223.00" font-size="10" text-anchor="middle" font-weight="normal" fill="#262626">300</text>
<line x1="557.36" y1="209.3" x2="557.36" y2="207.70000000000002" stroke="#262626" stroke-width="1"/>
<line x1="557.36" y1="25.1" x2="557.36" y2="26.700000000000003" stroke="#262626" stroke-width="1"/>
<text x="557.36" y="223.00" font-size="10" text-anchor="middle" font-weight="normal" fill="#262626">400</text>
<line x1="589.58" y1="209.3" x2="589.58" y2="207.70000000000002" stroke="#262626" stroke-width="1"/>
<line x1="589.58" y1="25.1" x2="589.58" y2="26.700000000000003" stroke="#262626" stroke-width="1"/>
<text x="589.58" y="223.00" font-size="10" text-anchor="middle" font-weight="normal" fill="#262626">500</text>
<line x1="621.80" y1="209.3" x2="621.80" y2="207.70000000000002" stroke="#262626" stroke-width="1"/>
<line x1="621.80" y1="25.1" x2="621.80" y2="26.700000000000003" stroke="#262626" stroke-width="1"/>
<text x="621.80" y="223.00" font-size="10" text-anchor="middle" font-weight="normal" fill="#262626">600</text>
<line x1="454.5" y1="209.30" x2="456.1" y2="209.30" stroke="#262626" stroke-width="1"/>
<line x1="621.6" y1="209.30" x2="620.0" y2="209.30" stroke="#262626" stroke-width="1"/>
<text x="451.00" y="212.90" font-size="10" text-anchor="end" font-weight="normal" fill="#262626">844</text>
<line x1="454.5" y1="163.25" x2="456.1" y2="163.25" stroke="#262626" stroke-width="1"/>
<line x1="621.6" y1="163.25" x2="620.0" y2="163.25" stroke="#262626" stroke-width="1"/>
<text x="451.00" y="166.85" font-size="10" text-anchor="end" font-weight="normal" fill="#262626">846</text>
<line x1="454.5" y1="117.20" x2="456.1" y2="117.20" stroke="#262626" stroke-width="1"/>
<line x1="621.6" y1="117.20" x2="620.0" y2="117.20" stroke="#262626" stroke-width="1"/>
<text x="451.00" y="120.80" font-size="10" text-anchor="end" font-weight="normal" fill="#262626">848</text>
<line x1="454.5" y1="71.15" x2="456.1" y2="71.15" stroke="#262626" stroke-width="1"/>
<line x1="621.6" y1="71.15" x2="620.0" y2="71.15" stroke="#262626" stroke-width="1"/>
<text x="451.00" y="74.75" font-size="10" text-anchor="end" font-weight="normal" fill="#262626">850</text>
<line x1="454.5" y1="25.10" x2="456.1" y2="25.10" stroke="#262626" stroke-width="1"/>
<line x1="621.6" y1="25.10" x2="620.0" y2="25.10" stroke="#262626" stroke-width="1"/>
<text x="451.00" y="28.70" font-size="10" text-anchor="end" font-weight="normal" fill="#262626">852</text>
<text x="541.00" y="13.00" font-size="12.5" text-anchor="middle" font-weight="normal" fill="#262626">(c)</text>
<text x="538.00" y="238.00" font-size="11.5" text-anchor="middle" font-weight="normal" fill="#262626">Current (mA)</text>
<text x="430.00" y="114.50" font-size="11" text-anchor="middle" font-weight="normal" fill="#262626" transform="rotate(-90 430 114.5)">Wavelength(nm)</text>
</svg>
</body></html>
